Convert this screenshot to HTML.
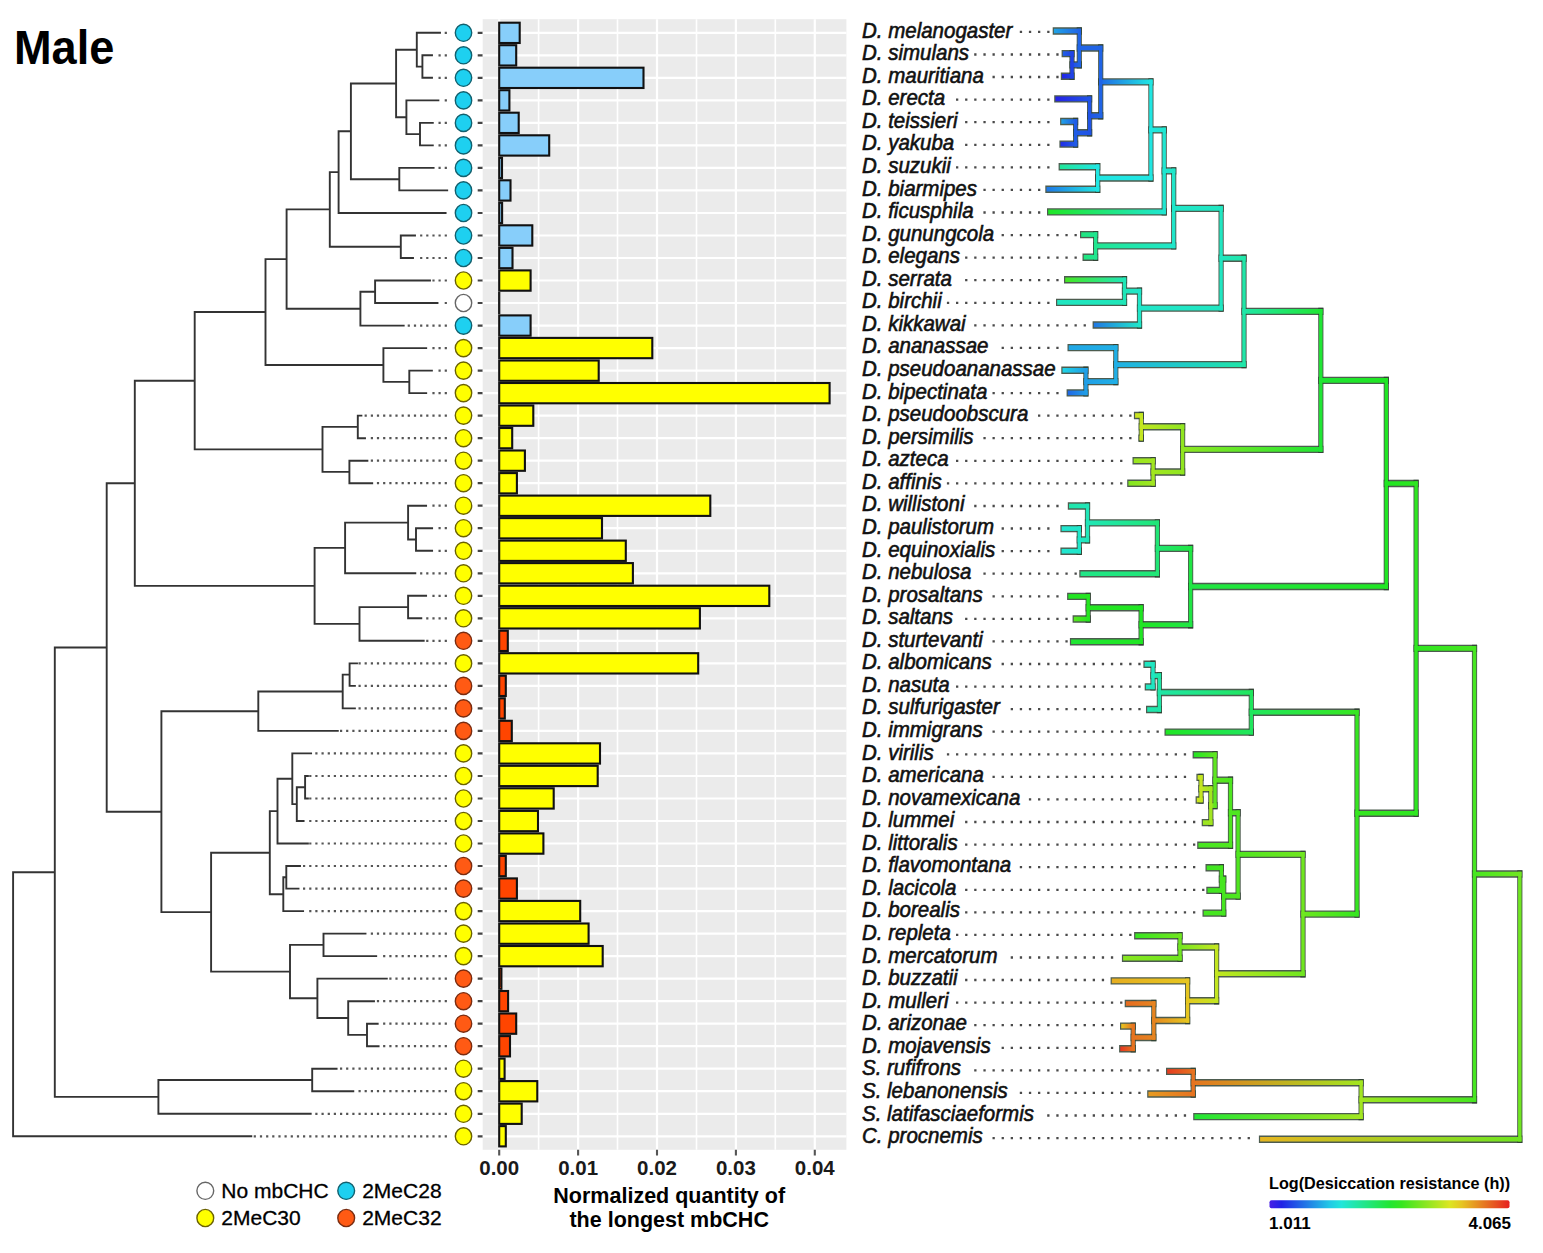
<!DOCTYPE html>
<html><head><meta charset="utf-8"><style>html,body{margin:0;padding:0;background:#fff;}body{width:1543px;height:1253px;position:relative;overflow:hidden;}</style></head><body>
<svg width="1543" height="1253" viewBox="0 0 1543 1253" style="position:absolute;left:0;top:0">
<rect x="0" y="0" width="1543" height="1253" fill="#ffffff"/>
<text transform="translate(14 63.5) scale(0.94 1)" font-family="Liberation Sans" font-weight="bold" font-size="48" fill="#000">Male</text>
<path d="M13.1 872.2V1136.3M13.1 872.2H54.8M13.1 1136.3H251.3M54.8 647.5V1096.9M54.8 647.5H106.7M54.8 1096.9H158.4M158.4 1080V1113.8M158.4 1080H312.2M158.4 1113.8H310.7M312.2 1068.7V1091.2M312.2 1068.7H336.6M312.2 1091.2H353.3M106.7 483.3V811.7M106.7 483.3H134.8M106.7 811.7H161.4M134.8 380.7V585.9M134.8 380.7H194.7M134.8 585.9H314.6M194.7 312V449.4M194.7 312H265.5M194.7 449.4H322.5M265.5 259.1V365M265.5 259.1H286.6M265.5 365H383.4M286.6 209.4V308.7M286.6 209.4H329.8M286.6 308.7H360.4M329.8 172.1V246.7M329.8 172.1H338.6M329.8 246.7H400.8M338.6 131.3V213M338.6 131.3H350.9M338.6 213H445.6M350.9 83.5V179.2M350.9 83.5H396.1M350.9 179.2H399.3M396.1 49.7V117.2M396.1 49.7H416.8M396.1 117.2H406.4M416.8 32.8V66.6M416.8 32.8H440M416.8 66.6H422.4M422.4 55.3V77.8M422.4 55.3H432M422.4 77.8H432M406.4 100.4V134.1M406.4 100.4H438.4M406.4 134.1H420M420 122.9V145.4M420 122.9H432.8M420 145.4H432.8M399.3 167.9V190.4M399.3 167.9H433.6M399.3 190.4H447.2M400.8 235.5V258M400.8 235.5H415M400.8 258H413M360.4 291.8V325.6M360.4 291.8H375.1M360.4 325.6H403.7M375.1 280.5V303M375.1 280.5H430M375.1 303H437.5M383.4 348.1V381.9M383.4 348.1H426.2M383.4 381.9H409.3M409.3 370.6V393.1M409.3 370.6H431.9M409.3 393.1H426.2M322.5 426.9V471.9M322.5 426.9H357.8M322.5 471.9H349.4M357.8 415.6V438.2M357.8 415.6H361.4M357.8 438.2H365M349.4 460.7V483.2M349.4 460.7H367.4M349.4 483.2H372.2M314.6 547.9V623.9M314.6 547.9H345.1M314.6 623.9H359.5M345.1 522.6V573.3M345.1 522.6H408.1M345.1 573.3H415.3M408.1 505.7V539.5M408.1 505.7H426.1M408.1 539.5H416M416 528.2V550.8M416 528.2H432.1M416 550.8H432.1M359.5 607.1V640.8M359.5 607.1H408.1M359.5 640.8H423.7M408.1 595.8V618.3M408.1 595.8H426.1M408.1 618.3H421.3M161.4 711.2V912.1M161.4 711.2H258.3M161.4 912.1H211.1M258.3 691.5V730.9M258.3 691.5H342.7M258.3 730.9H337.8M342.7 674.6V708.4M342.7 674.6H349.6M342.7 708.4H354.9M349.6 663.4V685.9M349.6 663.4H357M349.6 685.9H354.9M211.1 852.7V971.6M211.1 852.7H269.8M211.1 971.6H290M269.8 811.1V894.2M269.8 811.1H277.5M269.8 894.2H283.3M277.5 778.8V843.5M277.5 778.8H292.3M277.5 843.5H307.9M292.3 753.4V804.1M292.3 753.4H311.1M292.3 804.1H296.8M296.8 787.2V821M296.8 787.2H305.1M296.8 821H303.6M305.1 776V798.5M305.1 776H307.9M305.1 798.5H307.9M283.3 877.3V911.1M283.3 877.3H286.3M283.3 911.1H303.1M286.3 866V888.6M286.3 866H300M286.3 888.6H298.5M290 944.9V998.3M290 944.9H323.5M290 998.3H317.4M323.5 933.6V956.1M323.5 933.6H365.5M323.5 956.1H376.2M317.4 978.6V1018M317.4 978.6H386.8M317.4 1018H348.2M348.2 1001.2V1034.9M348.2 1001.2H374M348.2 1034.9H367M367 1023.7V1046.2M367 1023.7H377.7M367 1046.2H378.6" fill="none" stroke="#333" stroke-width="1.9" stroke-linecap="square"/>
<path d="M444.7 32.8h2.2M444.7 55.3h2.2M438.5 55.3h2.2M444.7 77.8h2.2M438.5 77.8h2.2M444.7 100.4h2.2M444.7 122.9h2.2M438.5 122.9h2.2M444.7 145.4h2.2M438.5 145.4h2.2M444.7 167.9h2.2M438.5 167.9h2.2M444.7 235.5h2.2M438.5 235.5h2.2M432.4 235.5h2.2M426.2 235.5h2.2M420.1 235.5h2.2M444.7 258h2.2M438.5 258h2.2M432.4 258h2.2M426.2 258h2.2M420.1 258h2.2M444.7 280.5h2.2M438.5 280.5h2.2M432.4 280.5h2.2M444.7 303h2.2M444.7 325.6h2.2M438.5 325.6h2.2M432.4 325.6h2.2M426.2 325.6h2.2M420.1 325.6h2.2M413.9 325.6h2.2M407.7 325.6h2.2M444.7 348.1h2.2M438.5 348.1h2.2M432.4 348.1h2.2M444.7 370.6h2.2M438.5 370.6h2.2M444.7 393.1h2.2M438.5 393.1h2.2M432.4 393.1h2.2M444.7 415.6h2.2M438.5 415.6h2.2M432.4 415.6h2.2M426.2 415.6h2.2M420.1 415.6h2.2M413.9 415.6h2.2M407.7 415.6h2.2M401.6 415.6h2.2M395.4 415.6h2.2M389.3 415.6h2.2M383.1 415.6h2.2M376.9 415.6h2.2M370.8 415.6h2.2M364.6 415.6h2.2M444.7 438.2h2.2M438.5 438.2h2.2M432.4 438.2h2.2M426.2 438.2h2.2M420.1 438.2h2.2M413.9 438.2h2.2M407.7 438.2h2.2M401.6 438.2h2.2M395.4 438.2h2.2M389.3 438.2h2.2M383.1 438.2h2.2M376.9 438.2h2.2M370.8 438.2h2.2M444.7 460.7h2.2M438.5 460.7h2.2M432.4 460.7h2.2M426.2 460.7h2.2M420.1 460.7h2.2M413.9 460.7h2.2M407.7 460.7h2.2M401.6 460.7h2.2M395.4 460.7h2.2M389.3 460.7h2.2M383.1 460.7h2.2M376.9 460.7h2.2M370.8 460.7h2.2M444.7 483.2h2.2M438.5 483.2h2.2M432.4 483.2h2.2M426.2 483.2h2.2M420.1 483.2h2.2M413.9 483.2h2.2M407.7 483.2h2.2M401.6 483.2h2.2M395.4 483.2h2.2M389.3 483.2h2.2M383.1 483.2h2.2M376.9 483.2h2.2M444.7 505.7h2.2M438.5 505.7h2.2M432.4 505.7h2.2M444.7 528.2h2.2M438.5 528.2h2.2M444.7 550.8h2.2M438.5 550.8h2.2M444.7 573.3h2.2M438.5 573.3h2.2M432.4 573.3h2.2M426.2 573.3h2.2M420.1 573.3h2.2M444.7 595.8h2.2M438.5 595.8h2.2M432.4 595.8h2.2M444.7 618.3h2.2M438.5 618.3h2.2M432.4 618.3h2.2M426.2 618.3h2.2M444.7 640.8h2.2M438.5 640.8h2.2M432.4 640.8h2.2M426.2 640.8h2.2M444.7 663.4h2.2M438.5 663.4h2.2M432.4 663.4h2.2M426.2 663.4h2.2M420.1 663.4h2.2M413.9 663.4h2.2M407.7 663.4h2.2M401.6 663.4h2.2M395.4 663.4h2.2M389.3 663.4h2.2M383.1 663.4h2.2M376.9 663.4h2.2M370.8 663.4h2.2M364.6 663.4h2.2M358.5 663.4h2.2M444.7 685.9h2.2M438.5 685.9h2.2M432.4 685.9h2.2M426.2 685.9h2.2M420.1 685.9h2.2M413.9 685.9h2.2M407.7 685.9h2.2M401.6 685.9h2.2M395.4 685.9h2.2M389.3 685.9h2.2M383.1 685.9h2.2M376.9 685.9h2.2M370.8 685.9h2.2M364.6 685.9h2.2M358.5 685.9h2.2M444.7 708.4h2.2M438.5 708.4h2.2M432.4 708.4h2.2M426.2 708.4h2.2M420.1 708.4h2.2M413.9 708.4h2.2M407.7 708.4h2.2M401.6 708.4h2.2M395.4 708.4h2.2M389.3 708.4h2.2M383.1 708.4h2.2M376.9 708.4h2.2M370.8 708.4h2.2M364.6 708.4h2.2M358.5 708.4h2.2M444.7 730.9h2.2M438.5 730.9h2.2M432.4 730.9h2.2M426.2 730.9h2.2M420.1 730.9h2.2M413.9 730.9h2.2M407.7 730.9h2.2M401.6 730.9h2.2M395.4 730.9h2.2M389.3 730.9h2.2M383.1 730.9h2.2M376.9 730.9h2.2M370.8 730.9h2.2M364.6 730.9h2.2M358.5 730.9h2.2M352.3 730.9h2.2M346.1 730.9h2.2M340 730.9h2.2M444.7 753.4h2.2M438.5 753.4h2.2M432.4 753.4h2.2M426.2 753.4h2.2M420.1 753.4h2.2M413.9 753.4h2.2M407.7 753.4h2.2M401.6 753.4h2.2M395.4 753.4h2.2M389.3 753.4h2.2M383.1 753.4h2.2M376.9 753.4h2.2M370.8 753.4h2.2M364.6 753.4h2.2M358.5 753.4h2.2M352.3 753.4h2.2M346.1 753.4h2.2M340 753.4h2.2M333.8 753.4h2.2M327.7 753.4h2.2M321.5 753.4h2.2M315.3 753.4h2.2M444.7 776h2.2M438.5 776h2.2M432.4 776h2.2M426.2 776h2.2M420.1 776h2.2M413.9 776h2.2M407.7 776h2.2M401.6 776h2.2M395.4 776h2.2M389.3 776h2.2M383.1 776h2.2M376.9 776h2.2M370.8 776h2.2M364.6 776h2.2M358.5 776h2.2M352.3 776h2.2M346.1 776h2.2M340 776h2.2M333.8 776h2.2M327.7 776h2.2M321.5 776h2.2M315.3 776h2.2M309.2 776h2.2M444.7 798.5h2.2M438.5 798.5h2.2M432.4 798.5h2.2M426.2 798.5h2.2M420.1 798.5h2.2M413.9 798.5h2.2M407.7 798.5h2.2M401.6 798.5h2.2M395.4 798.5h2.2M389.3 798.5h2.2M383.1 798.5h2.2M376.9 798.5h2.2M370.8 798.5h2.2M364.6 798.5h2.2M358.5 798.5h2.2M352.3 798.5h2.2M346.1 798.5h2.2M340 798.5h2.2M333.8 798.5h2.2M327.7 798.5h2.2M321.5 798.5h2.2M315.3 798.5h2.2M309.2 798.5h2.2M444.7 821h2.2M438.5 821h2.2M432.4 821h2.2M426.2 821h2.2M420.1 821h2.2M413.9 821h2.2M407.7 821h2.2M401.6 821h2.2M395.4 821h2.2M389.3 821h2.2M383.1 821h2.2M376.9 821h2.2M370.8 821h2.2M364.6 821h2.2M358.5 821h2.2M352.3 821h2.2M346.1 821h2.2M340 821h2.2M333.8 821h2.2M327.7 821h2.2M321.5 821h2.2M315.3 821h2.2M309.2 821h2.2M444.7 843.5h2.2M438.5 843.5h2.2M432.4 843.5h2.2M426.2 843.5h2.2M420.1 843.5h2.2M413.9 843.5h2.2M407.7 843.5h2.2M401.6 843.5h2.2M395.4 843.5h2.2M389.3 843.5h2.2M383.1 843.5h2.2M376.9 843.5h2.2M370.8 843.5h2.2M364.6 843.5h2.2M358.5 843.5h2.2M352.3 843.5h2.2M346.1 843.5h2.2M340 843.5h2.2M333.8 843.5h2.2M327.7 843.5h2.2M321.5 843.5h2.2M315.3 843.5h2.2M309.2 843.5h2.2M444.7 866h2.2M438.5 866h2.2M432.4 866h2.2M426.2 866h2.2M420.1 866h2.2M413.9 866h2.2M407.7 866h2.2M401.6 866h2.2M395.4 866h2.2M389.3 866h2.2M383.1 866h2.2M376.9 866h2.2M370.8 866h2.2M364.6 866h2.2M358.5 866h2.2M352.3 866h2.2M346.1 866h2.2M340 866h2.2M333.8 866h2.2M327.7 866h2.2M321.5 866h2.2M315.3 866h2.2M309.2 866h2.2M303 866h2.2M444.7 888.6h2.2M438.5 888.6h2.2M432.4 888.6h2.2M426.2 888.6h2.2M420.1 888.6h2.2M413.9 888.6h2.2M407.7 888.6h2.2M401.6 888.6h2.2M395.4 888.6h2.2M389.3 888.6h2.2M383.1 888.6h2.2M376.9 888.6h2.2M370.8 888.6h2.2M364.6 888.6h2.2M358.5 888.6h2.2M352.3 888.6h2.2M346.1 888.6h2.2M340 888.6h2.2M333.8 888.6h2.2M327.7 888.6h2.2M321.5 888.6h2.2M315.3 888.6h2.2M309.2 888.6h2.2M303 888.6h2.2M444.7 911.1h2.2M438.5 911.1h2.2M432.4 911.1h2.2M426.2 911.1h2.2M420.1 911.1h2.2M413.9 911.1h2.2M407.7 911.1h2.2M401.6 911.1h2.2M395.4 911.1h2.2M389.3 911.1h2.2M383.1 911.1h2.2M376.9 911.1h2.2M370.8 911.1h2.2M364.6 911.1h2.2M358.5 911.1h2.2M352.3 911.1h2.2M346.1 911.1h2.2M340 911.1h2.2M333.8 911.1h2.2M327.7 911.1h2.2M321.5 911.1h2.2M315.3 911.1h2.2M309.2 911.1h2.2M444.7 933.6h2.2M438.5 933.6h2.2M432.4 933.6h2.2M426.2 933.6h2.2M420.1 933.6h2.2M413.9 933.6h2.2M407.7 933.6h2.2M401.6 933.6h2.2M395.4 933.6h2.2M389.3 933.6h2.2M383.1 933.6h2.2M376.9 933.6h2.2M370.8 933.6h2.2M444.7 956.1h2.2M438.5 956.1h2.2M432.4 956.1h2.2M426.2 956.1h2.2M420.1 956.1h2.2M413.9 956.1h2.2M407.7 956.1h2.2M401.6 956.1h2.2M395.4 956.1h2.2M389.3 956.1h2.2M383.1 956.1h2.2M444.7 978.6h2.2M438.5 978.6h2.2M432.4 978.6h2.2M426.2 978.6h2.2M420.1 978.6h2.2M413.9 978.6h2.2M407.7 978.6h2.2M401.6 978.6h2.2M395.4 978.6h2.2M389.3 978.6h2.2M444.7 1001.2h2.2M438.5 1001.2h2.2M432.4 1001.2h2.2M426.2 1001.2h2.2M420.1 1001.2h2.2M413.9 1001.2h2.2M407.7 1001.2h2.2M401.6 1001.2h2.2M395.4 1001.2h2.2M389.3 1001.2h2.2M383.1 1001.2h2.2M376.9 1001.2h2.2M444.7 1023.7h2.2M438.5 1023.7h2.2M432.4 1023.7h2.2M426.2 1023.7h2.2M420.1 1023.7h2.2M413.9 1023.7h2.2M407.7 1023.7h2.2M401.6 1023.7h2.2M395.4 1023.7h2.2M389.3 1023.7h2.2M383.1 1023.7h2.2M444.7 1046.2h2.2M438.5 1046.2h2.2M432.4 1046.2h2.2M426.2 1046.2h2.2M420.1 1046.2h2.2M413.9 1046.2h2.2M407.7 1046.2h2.2M401.6 1046.2h2.2M395.4 1046.2h2.2M389.3 1046.2h2.2M383.1 1046.2h2.2M444.7 1068.7h2.2M438.5 1068.7h2.2M432.4 1068.7h2.2M426.2 1068.7h2.2M420.1 1068.7h2.2M413.9 1068.7h2.2M407.7 1068.7h2.2M401.6 1068.7h2.2M395.4 1068.7h2.2M389.3 1068.7h2.2M383.1 1068.7h2.2M376.9 1068.7h2.2M370.8 1068.7h2.2M364.6 1068.7h2.2M358.5 1068.7h2.2M352.3 1068.7h2.2M346.1 1068.7h2.2M340 1068.7h2.2M444.7 1091.2h2.2M438.5 1091.2h2.2M432.4 1091.2h2.2M426.2 1091.2h2.2M420.1 1091.2h2.2M413.9 1091.2h2.2M407.7 1091.2h2.2M401.6 1091.2h2.2M395.4 1091.2h2.2M389.3 1091.2h2.2M383.1 1091.2h2.2M376.9 1091.2h2.2M370.8 1091.2h2.2M364.6 1091.2h2.2M358.5 1091.2h2.2M444.7 1113.8h2.2M438.5 1113.8h2.2M432.4 1113.8h2.2M426.2 1113.8h2.2M420.1 1113.8h2.2M413.9 1113.8h2.2M407.7 1113.8h2.2M401.6 1113.8h2.2M395.4 1113.8h2.2M389.3 1113.8h2.2M383.1 1113.8h2.2M376.9 1113.8h2.2M370.8 1113.8h2.2M364.6 1113.8h2.2M358.5 1113.8h2.2M352.3 1113.8h2.2M346.1 1113.8h2.2M340 1113.8h2.2M333.8 1113.8h2.2M327.7 1113.8h2.2M321.5 1113.8h2.2M315.3 1113.8h2.2M444.7 1136.3h2.2M438.5 1136.3h2.2M432.4 1136.3h2.2M426.2 1136.3h2.2M420.1 1136.3h2.2M413.9 1136.3h2.2M407.7 1136.3h2.2M401.6 1136.3h2.2M395.4 1136.3h2.2M389.3 1136.3h2.2M383.1 1136.3h2.2M376.9 1136.3h2.2M370.8 1136.3h2.2M364.6 1136.3h2.2M358.5 1136.3h2.2M352.3 1136.3h2.2M346.1 1136.3h2.2M340 1136.3h2.2M333.8 1136.3h2.2M327.7 1136.3h2.2M321.5 1136.3h2.2M315.3 1136.3h2.2M309.2 1136.3h2.2M303 1136.3h2.2M296.9 1136.3h2.2M290.7 1136.3h2.2M284.5 1136.3h2.2M278.4 1136.3h2.2M272.2 1136.3h2.2M266.1 1136.3h2.2M259.9 1136.3h2.2M253.7 1136.3h2.2" fill="none" stroke="#555" stroke-width="2.2"/>
<ellipse cx="463.5" cy="32.8" rx="8.2" ry="8.6" fill="#1ed0f0" stroke="#12606e" stroke-width="1.4"/>
<ellipse cx="463.5" cy="55.3" rx="8.2" ry="8.6" fill="#1ed0f0" stroke="#12606e" stroke-width="1.4"/>
<ellipse cx="463.5" cy="77.8" rx="8.2" ry="8.6" fill="#1ed0f0" stroke="#12606e" stroke-width="1.4"/>
<ellipse cx="463.5" cy="100.4" rx="8.2" ry="8.6" fill="#1ed0f0" stroke="#12606e" stroke-width="1.4"/>
<ellipse cx="463.5" cy="122.9" rx="8.2" ry="8.6" fill="#1ed0f0" stroke="#12606e" stroke-width="1.4"/>
<ellipse cx="463.5" cy="145.4" rx="8.2" ry="8.6" fill="#1ed0f0" stroke="#12606e" stroke-width="1.4"/>
<ellipse cx="463.5" cy="167.9" rx="8.2" ry="8.6" fill="#1ed0f0" stroke="#12606e" stroke-width="1.4"/>
<ellipse cx="463.5" cy="190.4" rx="8.2" ry="8.6" fill="#1ed0f0" stroke="#12606e" stroke-width="1.4"/>
<ellipse cx="463.5" cy="213" rx="8.2" ry="8.6" fill="#1ed0f0" stroke="#12606e" stroke-width="1.4"/>
<ellipse cx="463.5" cy="235.5" rx="8.2" ry="8.6" fill="#1ed0f0" stroke="#12606e" stroke-width="1.4"/>
<ellipse cx="463.5" cy="258" rx="8.2" ry="8.6" fill="#1ed0f0" stroke="#12606e" stroke-width="1.4"/>
<ellipse cx="463.5" cy="280.5" rx="8.2" ry="8.6" fill="#ffff00" stroke="#6b6200" stroke-width="1.4"/>
<ellipse cx="463.5" cy="303" rx="8.2" ry="8.6" fill="#ffffff" stroke="#666666" stroke-width="1.4"/>
<ellipse cx="463.5" cy="325.6" rx="8.2" ry="8.6" fill="#1ed0f0" stroke="#12606e" stroke-width="1.4"/>
<ellipse cx="463.5" cy="348.1" rx="8.2" ry="8.6" fill="#ffff00" stroke="#6b6200" stroke-width="1.4"/>
<ellipse cx="463.5" cy="370.6" rx="8.2" ry="8.6" fill="#ffff00" stroke="#6b6200" stroke-width="1.4"/>
<ellipse cx="463.5" cy="393.1" rx="8.2" ry="8.6" fill="#ffff00" stroke="#6b6200" stroke-width="1.4"/>
<ellipse cx="463.5" cy="415.6" rx="8.2" ry="8.6" fill="#ffff00" stroke="#6b6200" stroke-width="1.4"/>
<ellipse cx="463.5" cy="438.2" rx="8.2" ry="8.6" fill="#ffff00" stroke="#6b6200" stroke-width="1.4"/>
<ellipse cx="463.5" cy="460.7" rx="8.2" ry="8.6" fill="#ffff00" stroke="#6b6200" stroke-width="1.4"/>
<ellipse cx="463.5" cy="483.2" rx="8.2" ry="8.6" fill="#ffff00" stroke="#6b6200" stroke-width="1.4"/>
<ellipse cx="463.5" cy="505.7" rx="8.2" ry="8.6" fill="#ffff00" stroke="#6b6200" stroke-width="1.4"/>
<ellipse cx="463.5" cy="528.2" rx="8.2" ry="8.6" fill="#ffff00" stroke="#6b6200" stroke-width="1.4"/>
<ellipse cx="463.5" cy="550.8" rx="8.2" ry="8.6" fill="#ffff00" stroke="#6b6200" stroke-width="1.4"/>
<ellipse cx="463.5" cy="573.3" rx="8.2" ry="8.6" fill="#ffff00" stroke="#6b6200" stroke-width="1.4"/>
<ellipse cx="463.5" cy="595.8" rx="8.2" ry="8.6" fill="#ffff00" stroke="#6b6200" stroke-width="1.4"/>
<ellipse cx="463.5" cy="618.3" rx="8.2" ry="8.6" fill="#ffff00" stroke="#6b6200" stroke-width="1.4"/>
<ellipse cx="463.5" cy="640.8" rx="8.2" ry="8.6" fill="#ff5a14" stroke="#7a2c10" stroke-width="1.4"/>
<ellipse cx="463.5" cy="663.4" rx="8.2" ry="8.6" fill="#ffff00" stroke="#6b6200" stroke-width="1.4"/>
<ellipse cx="463.5" cy="685.9" rx="8.2" ry="8.6" fill="#ff5a14" stroke="#7a2c10" stroke-width="1.4"/>
<ellipse cx="463.5" cy="708.4" rx="8.2" ry="8.6" fill="#ff5a14" stroke="#7a2c10" stroke-width="1.4"/>
<ellipse cx="463.5" cy="730.9" rx="8.2" ry="8.6" fill="#ff5a14" stroke="#7a2c10" stroke-width="1.4"/>
<ellipse cx="463.5" cy="753.4" rx="8.2" ry="8.6" fill="#ffff00" stroke="#6b6200" stroke-width="1.4"/>
<ellipse cx="463.5" cy="776" rx="8.2" ry="8.6" fill="#ffff00" stroke="#6b6200" stroke-width="1.4"/>
<ellipse cx="463.5" cy="798.5" rx="8.2" ry="8.6" fill="#ffff00" stroke="#6b6200" stroke-width="1.4"/>
<ellipse cx="463.5" cy="821" rx="8.2" ry="8.6" fill="#ffff00" stroke="#6b6200" stroke-width="1.4"/>
<ellipse cx="463.5" cy="843.5" rx="8.2" ry="8.6" fill="#ffff00" stroke="#6b6200" stroke-width="1.4"/>
<ellipse cx="463.5" cy="866" rx="8.2" ry="8.6" fill="#ff5a14" stroke="#7a2c10" stroke-width="1.4"/>
<ellipse cx="463.5" cy="888.6" rx="8.2" ry="8.6" fill="#ff5a14" stroke="#7a2c10" stroke-width="1.4"/>
<ellipse cx="463.5" cy="911.1" rx="8.2" ry="8.6" fill="#ffff00" stroke="#6b6200" stroke-width="1.4"/>
<ellipse cx="463.5" cy="933.6" rx="8.2" ry="8.6" fill="#ffff00" stroke="#6b6200" stroke-width="1.4"/>
<ellipse cx="463.5" cy="956.1" rx="8.2" ry="8.6" fill="#ffff00" stroke="#6b6200" stroke-width="1.4"/>
<ellipse cx="463.5" cy="978.6" rx="8.2" ry="8.6" fill="#ff5a14" stroke="#7a2c10" stroke-width="1.4"/>
<ellipse cx="463.5" cy="1001.2" rx="8.2" ry="8.6" fill="#ff5a14" stroke="#7a2c10" stroke-width="1.4"/>
<ellipse cx="463.5" cy="1023.7" rx="8.2" ry="8.6" fill="#ff5a14" stroke="#7a2c10" stroke-width="1.4"/>
<ellipse cx="463.5" cy="1046.2" rx="8.2" ry="8.6" fill="#ff5a14" stroke="#7a2c10" stroke-width="1.4"/>
<ellipse cx="463.5" cy="1068.7" rx="8.2" ry="8.6" fill="#ffff00" stroke="#6b6200" stroke-width="1.4"/>
<ellipse cx="463.5" cy="1091.2" rx="8.2" ry="8.6" fill="#ffff00" stroke="#6b6200" stroke-width="1.4"/>
<ellipse cx="463.5" cy="1113.8" rx="8.2" ry="8.6" fill="#ffff00" stroke="#6b6200" stroke-width="1.4"/>
<ellipse cx="463.5" cy="1136.3" rx="8.2" ry="8.6" fill="#ffff00" stroke="#6b6200" stroke-width="1.4"/>
<path d="M477.7 32.8H483M477.7 55.3H483M477.7 77.8H483M477.7 100.4H483M477.7 122.9H483M477.7 145.4H483M477.7 167.9H483M477.7 190.4H483M477.7 213H483M477.7 235.5H483M477.7 258H483M477.7 280.5H483M477.7 303H483M477.7 325.6H483M477.7 348.1H483M477.7 370.6H483M477.7 393.1H483M477.7 415.6H483M477.7 438.2H483M477.7 460.7H483M477.7 483.2H483M477.7 505.7H483M477.7 528.2H483M477.7 550.8H483M477.7 573.3H483M477.7 595.8H483M477.7 618.3H483M477.7 640.8H483M477.7 663.4H483M477.7 685.9H483M477.7 708.4H483M477.7 730.9H483M477.7 753.4H483M477.7 776H483M477.7 798.5H483M477.7 821H483M477.7 843.5H483M477.7 866H483M477.7 888.6H483M477.7 911.1H483M477.7 933.6H483M477.7 956.1H483M477.7 978.6H483M477.7 1001.2H483M477.7 1023.7H483M477.7 1046.2H483M477.7 1068.7H483M477.7 1091.2H483M477.7 1113.8H483M477.7 1136.3H483" stroke="#444" stroke-width="2.2"/>
<rect x="482.7" y="19.2" width="363.7" height="1130.6" fill="#ebebeb"/>
<path d="M538.6 19.2V1149.8M617.5 19.2V1149.8M696.5 19.2V1149.8M775.3 19.2V1149.8" stroke="#fff" stroke-width="1.6"/>
<path d="M499.2 19.2V1149.8M578.1 19.2V1149.8M657 19.2V1149.8M735.9 19.2V1149.8M814.8 19.2V1149.8M482.7 32.8H846.4M482.7 55.3H846.4M482.7 77.8H846.4M482.7 100.4H846.4M482.7 122.9H846.4M482.7 145.4H846.4M482.7 167.9H846.4M482.7 190.4H846.4M482.7 213H846.4M482.7 235.5H846.4M482.7 258H846.4M482.7 280.5H846.4M482.7 303H846.4M482.7 325.6H846.4M482.7 348.1H846.4M482.7 370.6H846.4M482.7 393.1H846.4M482.7 415.6H846.4M482.7 438.2H846.4M482.7 460.7H846.4M482.7 483.2H846.4M482.7 505.7H846.4M482.7 528.2H846.4M482.7 550.8H846.4M482.7 573.3H846.4M482.7 595.8H846.4M482.7 618.3H846.4M482.7 640.8H846.4M482.7 663.4H846.4M482.7 685.9H846.4M482.7 708.4H846.4M482.7 730.9H846.4M482.7 753.4H846.4M482.7 776H846.4M482.7 798.5H846.4M482.7 821H846.4M482.7 843.5H846.4M482.7 866H846.4M482.7 888.6H846.4M482.7 911.1H846.4M482.7 933.6H846.4M482.7 956.1H846.4M482.7 978.6H846.4M482.7 1001.2H846.4M482.7 1023.7H846.4M482.7 1046.2H846.4M482.7 1068.7H846.4M482.7 1091.2H846.4M482.7 1113.8H846.4M482.7 1136.3H846.4" stroke="#fff" stroke-width="2.2"/>
<rect x="499.2" y="22.7" width="20.5" height="20.3" fill="#87cefa" stroke="#111" stroke-width="2.1"/>
<rect x="499.2" y="45.2" width="17" height="20.3" fill="#87cefa" stroke="#111" stroke-width="2.1"/>
<rect x="499.2" y="67.7" width="144.3" height="20.3" fill="#87cefa" stroke="#111" stroke-width="2.1"/>
<rect x="499.2" y="90.2" width="10.2" height="20.3" fill="#87cefa" stroke="#111" stroke-width="2.1"/>
<rect x="499.2" y="112.7" width="19.5" height="20.3" fill="#87cefa" stroke="#111" stroke-width="2.1"/>
<rect x="499.2" y="135.3" width="50" height="20.3" fill="#87cefa" stroke="#111" stroke-width="2.1"/>
<rect x="499.2" y="157.8" width="2.8" height="20.3" fill="#87cefa" stroke="#111" stroke-width="2.1"/>
<rect x="499.2" y="180.3" width="11.3" height="20.3" fill="#87cefa" stroke="#111" stroke-width="2.1"/>
<rect x="499.2" y="202.8" width="2.9" height="20.3" fill="#87cefa" stroke="#111" stroke-width="2.1"/>
<rect x="499.2" y="225.3" width="33.1" height="20.3" fill="#87cefa" stroke="#111" stroke-width="2.1"/>
<rect x="499.2" y="247.9" width="13.3" height="20.3" fill="#87cefa" stroke="#111" stroke-width="2.1"/>
<rect x="499.2" y="270.4" width="31.4" height="20.3" fill="#ffff00" stroke="#111" stroke-width="2.1"/>
<path d="M499.2 291.9V314.2" stroke="#1a1a1a" stroke-width="2.3"/>
<rect x="499.2" y="315.4" width="31.4" height="20.3" fill="#87cefa" stroke="#111" stroke-width="2.1"/>
<rect x="499.2" y="337.9" width="153.1" height="20.3" fill="#ffff00" stroke="#111" stroke-width="2.1"/>
<rect x="499.2" y="360.5" width="99.5" height="20.3" fill="#ffff00" stroke="#111" stroke-width="2.1"/>
<rect x="499.2" y="383" width="330.4" height="20.3" fill="#ffff00" stroke="#111" stroke-width="2.1"/>
<rect x="499.2" y="405.5" width="34.1" height="20.3" fill="#ffff00" stroke="#111" stroke-width="2.1"/>
<rect x="499.2" y="428" width="13" height="20.3" fill="#ffff00" stroke="#111" stroke-width="2.1"/>
<rect x="499.2" y="450.5" width="25.7" height="20.3" fill="#ffff00" stroke="#111" stroke-width="2.1"/>
<rect x="499.2" y="473.1" width="17.7" height="20.3" fill="#ffff00" stroke="#111" stroke-width="2.1"/>
<rect x="499.2" y="495.6" width="211.1" height="20.3" fill="#ffff00" stroke="#111" stroke-width="2.1"/>
<rect x="499.2" y="518.1" width="102.8" height="20.3" fill="#ffff00" stroke="#111" stroke-width="2.1"/>
<rect x="499.2" y="540.6" width="126.6" height="20.3" fill="#ffff00" stroke="#111" stroke-width="2.1"/>
<rect x="499.2" y="563.1" width="133.7" height="20.3" fill="#ffff00" stroke="#111" stroke-width="2.1"/>
<rect x="499.2" y="585.7" width="270.1" height="20.3" fill="#ffff00" stroke="#111" stroke-width="2.1"/>
<rect x="499.2" y="608.2" width="200.7" height="20.3" fill="#ffff00" stroke="#111" stroke-width="2.1"/>
<rect x="499.2" y="630.7" width="8.6" height="20.3" fill="#ff4500" stroke="#111" stroke-width="2.1"/>
<rect x="499.2" y="653.2" width="199" height="20.3" fill="#ffff00" stroke="#111" stroke-width="2.1"/>
<rect x="499.2" y="675.7" width="6.6" height="20.3" fill="#ff4500" stroke="#111" stroke-width="2.1"/>
<rect x="499.2" y="698.3" width="5.6" height="20.3" fill="#ff4500" stroke="#111" stroke-width="2.1"/>
<rect x="499.2" y="720.8" width="12.6" height="20.3" fill="#ff4500" stroke="#111" stroke-width="2.1"/>
<rect x="499.2" y="743.3" width="100.8" height="20.3" fill="#ffff00" stroke="#111" stroke-width="2.1"/>
<rect x="499.2" y="765.8" width="98.5" height="20.3" fill="#ffff00" stroke="#111" stroke-width="2.1"/>
<rect x="499.2" y="788.3" width="54.5" height="20.3" fill="#ffff00" stroke="#111" stroke-width="2.1"/>
<rect x="499.2" y="810.9" width="38.8" height="20.3" fill="#ffff00" stroke="#111" stroke-width="2.1"/>
<rect x="499.2" y="833.4" width="44.2" height="20.3" fill="#ffff00" stroke="#111" stroke-width="2.1"/>
<rect x="499.2" y="855.9" width="6.6" height="20.3" fill="#ff4500" stroke="#111" stroke-width="2.1"/>
<rect x="499.2" y="878.4" width="17.7" height="20.3" fill="#ff4500" stroke="#111" stroke-width="2.1"/>
<rect x="499.2" y="900.9" width="81" height="20.3" fill="#ffff00" stroke="#111" stroke-width="2.1"/>
<rect x="499.2" y="923.5" width="89.4" height="20.3" fill="#ffff00" stroke="#111" stroke-width="2.1"/>
<rect x="499.2" y="946" width="103.5" height="20.3" fill="#ffff00" stroke="#111" stroke-width="2.1"/>
<rect x="499.2" y="968.5" width="2.2" height="20.3" fill="#ff4500" stroke="#111" stroke-width="2.1"/>
<rect x="499.2" y="991" width="8.9" height="20.3" fill="#ff4500" stroke="#111" stroke-width="2.1"/>
<rect x="499.2" y="1013.5" width="17" height="20.3" fill="#ff4500" stroke="#111" stroke-width="2.1"/>
<rect x="499.2" y="1036.1" width="10.8" height="20.3" fill="#ff4500" stroke="#111" stroke-width="2.1"/>
<rect x="499.2" y="1058.6" width="5.4" height="20.3" fill="#ffff00" stroke="#111" stroke-width="2.1"/>
<rect x="499.2" y="1081.1" width="38.1" height="20.3" fill="#ffff00" stroke="#111" stroke-width="2.1"/>
<rect x="499.2" y="1103.6" width="22.5" height="20.3" fill="#ffff00" stroke="#111" stroke-width="2.1"/>
<rect x="499.2" y="1126.1" width="6.6" height="20.3" fill="#ffff00" stroke="#111" stroke-width="2.1"/>
<path d="M499.2 1149.8V1155.5M578.1 1149.8V1155.5M657 1149.8V1155.5M735.9 1149.8V1155.5M814.8 1149.8V1155.5" stroke="#555" stroke-width="2.1"/>
<text x="499.2" y="1174.5" text-anchor="middle" font-family="Liberation Sans" font-weight="bold" font-size="20.5" fill="#1a1a1a">0.00</text>
<text x="578.1" y="1174.5" text-anchor="middle" font-family="Liberation Sans" font-weight="bold" font-size="20.5" fill="#1a1a1a">0.01</text>
<text x="657" y="1174.5" text-anchor="middle" font-family="Liberation Sans" font-weight="bold" font-size="20.5" fill="#1a1a1a">0.02</text>
<text x="735.9" y="1174.5" text-anchor="middle" font-family="Liberation Sans" font-weight="bold" font-size="20.5" fill="#1a1a1a">0.03</text>
<text x="814.8" y="1174.5" text-anchor="middle" font-family="Liberation Sans" font-weight="bold" font-size="20.5" fill="#1a1a1a">0.04</text>
<text x="669.2" y="1202.8" text-anchor="middle" font-family="Liberation Sans" font-weight="bold" font-size="21.5" fill="#000">Normalized quantity of</text>
<text x="669.2" y="1227.4" text-anchor="middle" font-family="Liberation Sans" font-weight="bold" font-size="21.5" fill="#000">the longest mbCHC</text>
<ellipse cx="205.3" cy="1190.8" rx="8.4" ry="8.6" fill="#ffffff" stroke="#666666" stroke-width="1.4"/>
<text x="221.3" y="1197.7" font-family="Liberation Sans" font-size="21" fill="#000" stroke="#000" stroke-width="0.3">No mbCHC</text>
<ellipse cx="346.2" cy="1190.8" rx="8.4" ry="8.6" fill="#1ed0f0" stroke="#12606e" stroke-width="1.4"/>
<text x="362.2" y="1197.7" font-family="Liberation Sans" font-size="21" fill="#000" stroke="#000" stroke-width="0.3">2MeC28</text>
<ellipse cx="205.3" cy="1218" rx="8.4" ry="8.6" fill="#ffff00" stroke="#6b6200" stroke-width="1.4"/>
<text x="221.3" y="1224.9" font-family="Liberation Sans" font-size="21" fill="#000" stroke="#000" stroke-width="0.3">2MeC30</text>
<ellipse cx="346.2" cy="1218" rx="8.4" ry="8.6" fill="#ff5a14" stroke="#7a2c10" stroke-width="1.4"/>
<text x="362.2" y="1224.9" font-family="Liberation Sans" font-size="21" fill="#000" stroke="#000" stroke-width="0.3">2MeC32</text>
<text transform="translate(862 37.6) scale(0.953 1)" font-family="Liberation Sans" font-style="italic" font-size="21.5" fill="#111" stroke="#111" stroke-width="0.6">D. melanogaster</text>
<text transform="translate(862 60.2) scale(0.953 1)" font-family="Liberation Sans" font-style="italic" font-size="21.5" fill="#111" stroke="#111" stroke-width="0.6">D. simulans</text>
<text transform="translate(862 82.7) scale(0.953 1)" font-family="Liberation Sans" font-style="italic" font-size="21.5" fill="#111" stroke="#111" stroke-width="0.6">D. mauritiana</text>
<text transform="translate(862 105.3) scale(0.953 1)" font-family="Liberation Sans" font-style="italic" font-size="21.5" fill="#111" stroke="#111" stroke-width="0.6">D. erecta</text>
<text transform="translate(862 127.8) scale(0.953 1)" font-family="Liberation Sans" font-style="italic" font-size="21.5" fill="#111" stroke="#111" stroke-width="0.6">D. teissieri</text>
<text transform="translate(862 150.4) scale(0.953 1)" font-family="Liberation Sans" font-style="italic" font-size="21.5" fill="#111" stroke="#111" stroke-width="0.6">D. yakuba</text>
<text transform="translate(862 173) scale(0.953 1)" font-family="Liberation Sans" font-style="italic" font-size="21.5" fill="#111" stroke="#111" stroke-width="0.6">D. suzukii</text>
<text transform="translate(862 195.5) scale(0.953 1)" font-family="Liberation Sans" font-style="italic" font-size="21.5" fill="#111" stroke="#111" stroke-width="0.6">D. biarmipes</text>
<text transform="translate(862 218.1) scale(0.953 1)" font-family="Liberation Sans" font-style="italic" font-size="21.5" fill="#111" stroke="#111" stroke-width="0.6">D. ficusphila</text>
<text transform="translate(862 240.6) scale(0.953 1)" font-family="Liberation Sans" font-style="italic" font-size="21.5" fill="#111" stroke="#111" stroke-width="0.6">D. gunungcola</text>
<text transform="translate(862 263.2) scale(0.953 1)" font-family="Liberation Sans" font-style="italic" font-size="21.5" fill="#111" stroke="#111" stroke-width="0.6">D. elegans</text>
<text transform="translate(862 285.8) scale(0.953 1)" font-family="Liberation Sans" font-style="italic" font-size="21.5" fill="#111" stroke="#111" stroke-width="0.6">D. serrata</text>
<text transform="translate(862 308.3) scale(0.953 1)" font-family="Liberation Sans" font-style="italic" font-size="21.5" fill="#111" stroke="#111" stroke-width="0.6">D. birchii</text>
<text transform="translate(862 330.9) scale(0.953 1)" font-family="Liberation Sans" font-style="italic" font-size="21.5" fill="#111" stroke="#111" stroke-width="0.6">D. kikkawai</text>
<text transform="translate(862 353.4) scale(0.953 1)" font-family="Liberation Sans" font-style="italic" font-size="21.5" fill="#111" stroke="#111" stroke-width="0.6">D. ananassae</text>
<text transform="translate(862 376) scale(0.953 1)" font-family="Liberation Sans" font-style="italic" font-size="21.5" fill="#111" stroke="#111" stroke-width="0.6">D. pseudoananassae</text>
<text transform="translate(862 398.6) scale(0.953 1)" font-family="Liberation Sans" font-style="italic" font-size="21.5" fill="#111" stroke="#111" stroke-width="0.6">D. bipectinata</text>
<text transform="translate(862 421.1) scale(0.953 1)" font-family="Liberation Sans" font-style="italic" font-size="21.5" fill="#111" stroke="#111" stroke-width="0.6">D. pseudoobscura</text>
<text transform="translate(862 443.7) scale(0.953 1)" font-family="Liberation Sans" font-style="italic" font-size="21.5" fill="#111" stroke="#111" stroke-width="0.6">D. persimilis</text>
<text transform="translate(862 466.2) scale(0.953 1)" font-family="Liberation Sans" font-style="italic" font-size="21.5" fill="#111" stroke="#111" stroke-width="0.6">D. azteca</text>
<text transform="translate(862 488.8) scale(0.953 1)" font-family="Liberation Sans" font-style="italic" font-size="21.5" fill="#111" stroke="#111" stroke-width="0.6">D. affinis</text>
<text transform="translate(862 511.4) scale(0.953 1)" font-family="Liberation Sans" font-style="italic" font-size="21.5" fill="#111" stroke="#111" stroke-width="0.6">D. willistoni</text>
<text transform="translate(862 533.9) scale(0.953 1)" font-family="Liberation Sans" font-style="italic" font-size="21.5" fill="#111" stroke="#111" stroke-width="0.6">D. paulistorum</text>
<text transform="translate(862 556.5) scale(0.953 1)" font-family="Liberation Sans" font-style="italic" font-size="21.5" fill="#111" stroke="#111" stroke-width="0.6">D. equinoxialis</text>
<text transform="translate(862 579) scale(0.953 1)" font-family="Liberation Sans" font-style="italic" font-size="21.5" fill="#111" stroke="#111" stroke-width="0.6">D. nebulosa</text>
<text transform="translate(862 601.6) scale(0.953 1)" font-family="Liberation Sans" font-style="italic" font-size="21.5" fill="#111" stroke="#111" stroke-width="0.6">D. prosaltans</text>
<text transform="translate(862 624.2) scale(0.953 1)" font-family="Liberation Sans" font-style="italic" font-size="21.5" fill="#111" stroke="#111" stroke-width="0.6">D. saltans</text>
<text transform="translate(862 646.7) scale(0.953 1)" font-family="Liberation Sans" font-style="italic" font-size="21.5" fill="#111" stroke="#111" stroke-width="0.6">D. sturtevanti</text>
<text transform="translate(862 669.3) scale(0.953 1)" font-family="Liberation Sans" font-style="italic" font-size="21.5" fill="#111" stroke="#111" stroke-width="0.6">D. albomicans</text>
<text transform="translate(862 691.8) scale(0.953 1)" font-family="Liberation Sans" font-style="italic" font-size="21.5" fill="#111" stroke="#111" stroke-width="0.6">D. nasuta</text>
<text transform="translate(862 714.4) scale(0.953 1)" font-family="Liberation Sans" font-style="italic" font-size="21.5" fill="#111" stroke="#111" stroke-width="0.6">D. sulfurigaster</text>
<text transform="translate(862 737) scale(0.953 1)" font-family="Liberation Sans" font-style="italic" font-size="21.5" fill="#111" stroke="#111" stroke-width="0.6">D. immigrans</text>
<text transform="translate(862 759.5) scale(0.953 1)" font-family="Liberation Sans" font-style="italic" font-size="21.5" fill="#111" stroke="#111" stroke-width="0.6">D. virilis</text>
<text transform="translate(862 782.1) scale(0.953 1)" font-family="Liberation Sans" font-style="italic" font-size="21.5" fill="#111" stroke="#111" stroke-width="0.6">D. americana</text>
<text transform="translate(862 804.6) scale(0.953 1)" font-family="Liberation Sans" font-style="italic" font-size="21.5" fill="#111" stroke="#111" stroke-width="0.6">D. novamexicana</text>
<text transform="translate(862 827.2) scale(0.953 1)" font-family="Liberation Sans" font-style="italic" font-size="21.5" fill="#111" stroke="#111" stroke-width="0.6">D. lummei</text>
<text transform="translate(862 849.8) scale(0.953 1)" font-family="Liberation Sans" font-style="italic" font-size="21.5" fill="#111" stroke="#111" stroke-width="0.6">D. littoralis</text>
<text transform="translate(862 872.3) scale(0.953 1)" font-family="Liberation Sans" font-style="italic" font-size="21.5" fill="#111" stroke="#111" stroke-width="0.6">D. flavomontana</text>
<text transform="translate(862 894.9) scale(0.953 1)" font-family="Liberation Sans" font-style="italic" font-size="21.5" fill="#111" stroke="#111" stroke-width="0.6">D. lacicola</text>
<text transform="translate(862 917.4) scale(0.953 1)" font-family="Liberation Sans" font-style="italic" font-size="21.5" fill="#111" stroke="#111" stroke-width="0.6">D. borealis</text>
<text transform="translate(862 940) scale(0.953 1)" font-family="Liberation Sans" font-style="italic" font-size="21.5" fill="#111" stroke="#111" stroke-width="0.6">D. repleta</text>
<text transform="translate(862 962.6) scale(0.953 1)" font-family="Liberation Sans" font-style="italic" font-size="21.5" fill="#111" stroke="#111" stroke-width="0.6">D. mercatorum</text>
<text transform="translate(862 985.1) scale(0.953 1)" font-family="Liberation Sans" font-style="italic" font-size="21.5" fill="#111" stroke="#111" stroke-width="0.6">D. buzzatii</text>
<text transform="translate(862 1007.7) scale(0.953 1)" font-family="Liberation Sans" font-style="italic" font-size="21.5" fill="#111" stroke="#111" stroke-width="0.6">D. mulleri</text>
<text transform="translate(862 1030.2) scale(0.953 1)" font-family="Liberation Sans" font-style="italic" font-size="21.5" fill="#111" stroke="#111" stroke-width="0.6">D. arizonae</text>
<text transform="translate(862 1052.8) scale(0.953 1)" font-family="Liberation Sans" font-style="italic" font-size="21.5" fill="#111" stroke="#111" stroke-width="0.6">D. mojavensis</text>
<text transform="translate(862 1075.4) scale(0.953 1)" font-family="Liberation Sans" font-style="italic" font-size="21.5" fill="#111" stroke="#111" stroke-width="0.6">S. rufifrons</text>
<text transform="translate(862 1097.9) scale(0.953 1)" font-family="Liberation Sans" font-style="italic" font-size="21.5" fill="#111" stroke="#111" stroke-width="0.6">S. lebanonensis</text>
<text transform="translate(862 1120.5) scale(0.953 1)" font-family="Liberation Sans" font-style="italic" font-size="21.5" fill="#111" stroke="#111" stroke-width="0.6">S. latifasciaeformis</text>
<text transform="translate(862 1143) scale(0.953 1)" font-family="Liberation Sans" font-style="italic" font-size="21.5" fill="#111" stroke="#111" stroke-width="0.6">C. procnemis</text>
<path d="M1019.8 31.9h2.3M1028.9 31.9h2.3M1038 31.9h2.3M1047.2 31.9h2.3M974.2 54.5h2.3M983.4 54.5h2.3M992.5 54.5h2.3M1001.6 54.5h2.3M1010.7 54.5h2.3M1019.8 54.5h2.3M1028.9 54.5h2.3M1038 54.5h2.3M1047.2 54.5h2.3M1056.3 54.5h2.3M992.5 77h2.3M1001.6 77h2.3M1010.7 77h2.3M1019.8 77h2.3M1028.9 77h2.3M1038 77h2.3M1047.2 77h2.3M1056.3 77h2.3M956 99.6h2.3M965.1 99.6h2.3M974.2 99.6h2.3M983.4 99.6h2.3M992.5 99.6h2.3M1001.6 99.6h2.3M1010.7 99.6h2.3M1019.8 99.6h2.3M1028.9 99.6h2.3M1038 99.6h2.3M1047.2 99.6h2.3M965.1 122.2h2.3M974.2 122.2h2.3M983.4 122.2h2.3M992.5 122.2h2.3M1001.6 122.2h2.3M1010.7 122.2h2.3M1019.8 122.2h2.3M1028.9 122.2h2.3M1038 122.2h2.3M1047.2 122.2h2.3M965.1 144.8h2.3M974.2 144.8h2.3M983.4 144.8h2.3M992.5 144.8h2.3M1001.6 144.8h2.3M1010.7 144.8h2.3M1019.8 144.8h2.3M1028.9 144.8h2.3M1038 144.8h2.3M1047.2 144.8h2.3M956 167.3h2.3M965.1 167.3h2.3M974.2 167.3h2.3M983.4 167.3h2.3M992.5 167.3h2.3M1001.6 167.3h2.3M1010.7 167.3h2.3M1019.8 167.3h2.3M1028.9 167.3h2.3M1038 167.3h2.3M1047.2 167.3h2.3M983.4 189.9h2.3M992.5 189.9h2.3M1001.6 189.9h2.3M1010.7 189.9h2.3M1019.8 189.9h2.3M1028.9 189.9h2.3M1038 189.9h2.3M983.4 212.5h2.3M992.5 212.5h2.3M1001.6 212.5h2.3M1010.7 212.5h2.3M1019.8 212.5h2.3M1028.9 212.5h2.3M1038 212.5h2.3M1001.6 235.1h2.3M1010.7 235.1h2.3M1019.8 235.1h2.3M1028.9 235.1h2.3M1038 235.1h2.3M1047.2 235.1h2.3M1056.3 235.1h2.3M1065.4 235.1h2.3M1074.5 235.1h2.3M965.1 257.6h2.3M974.2 257.6h2.3M983.4 257.6h2.3M992.5 257.6h2.3M1001.6 257.6h2.3M1010.7 257.6h2.3M1019.8 257.6h2.3M1028.9 257.6h2.3M1038 257.6h2.3M1047.2 257.6h2.3M1056.3 257.6h2.3M1065.4 257.6h2.3M1074.5 257.6h2.3M965.1 280.2h2.3M974.2 280.2h2.3M983.4 280.2h2.3M992.5 280.2h2.3M1001.6 280.2h2.3M1010.7 280.2h2.3M1019.8 280.2h2.3M1028.9 280.2h2.3M1038 280.2h2.3M1047.2 280.2h2.3M1056.3 280.2h2.3M946.9 302.8h2.3M956 302.8h2.3M965.1 302.8h2.3M974.2 302.8h2.3M983.4 302.8h2.3M992.5 302.8h2.3M1001.6 302.8h2.3M1010.7 302.8h2.3M1019.8 302.8h2.3M1028.9 302.8h2.3M1038 302.8h2.3M1047.2 302.8h2.3M974.2 325.4h2.3M983.4 325.4h2.3M992.5 325.4h2.3M1001.6 325.4h2.3M1010.7 325.4h2.3M1019.8 325.4h2.3M1028.9 325.4h2.3M1038 325.4h2.3M1047.2 325.4h2.3M1056.3 325.4h2.3M1065.4 325.4h2.3M1074.5 325.4h2.3M1083.6 325.4h2.3M1001.6 347.9h2.3M1010.7 347.9h2.3M1019.8 347.9h2.3M1028.9 347.9h2.3M1038 347.9h2.3M1047.2 347.9h2.3M1056.3 347.9h2.3M992.5 393.1h2.3M1001.6 393.1h2.3M1010.7 393.1h2.3M1019.8 393.1h2.3M1028.9 393.1h2.3M1038 393.1h2.3M1047.2 393.1h2.3M1056.3 393.1h2.3M1038 415.7h2.3M1047.2 415.7h2.3M1056.3 415.7h2.3M1065.4 415.7h2.3M1074.5 415.7h2.3M1083.6 415.7h2.3M1092.7 415.7h2.3M1101.8 415.7h2.3M1110.9 415.7h2.3M1120.1 415.7h2.3M1129.2 415.7h2.3M983.4 438.2h2.3M992.5 438.2h2.3M1001.6 438.2h2.3M1010.7 438.2h2.3M1019.8 438.2h2.3M1028.9 438.2h2.3M1038 438.2h2.3M1047.2 438.2h2.3M1056.3 438.2h2.3M1065.4 438.2h2.3M1074.5 438.2h2.3M1083.6 438.2h2.3M1092.7 438.2h2.3M1101.8 438.2h2.3M1110.9 438.2h2.3M1120.1 438.2h2.3M1129.2 438.2h2.3M956 460.8h2.3M965.1 460.8h2.3M974.2 460.8h2.3M983.4 460.8h2.3M992.5 460.8h2.3M1001.6 460.8h2.3M1010.7 460.8h2.3M1019.8 460.8h2.3M1028.9 460.8h2.3M1038 460.8h2.3M1047.2 460.8h2.3M1056.3 460.8h2.3M1065.4 460.8h2.3M1074.5 460.8h2.3M1083.6 460.8h2.3M1092.7 460.8h2.3M1101.8 460.8h2.3M1110.9 460.8h2.3M1120.1 460.8h2.3M946.9 483.4h2.3M956 483.4h2.3M965.1 483.4h2.3M974.2 483.4h2.3M983.4 483.4h2.3M992.5 483.4h2.3M1001.6 483.4h2.3M1010.7 483.4h2.3M1019.8 483.4h2.3M1028.9 483.4h2.3M1038 483.4h2.3M1047.2 483.4h2.3M1056.3 483.4h2.3M1065.4 483.4h2.3M1074.5 483.4h2.3M1083.6 483.4h2.3M1092.7 483.4h2.3M1101.8 483.4h2.3M1110.9 483.4h2.3M1120.1 483.4h2.3M974.2 506h2.3M983.4 506h2.3M992.5 506h2.3M1001.6 506h2.3M1010.7 506h2.3M1019.8 506h2.3M1028.9 506h2.3M1038 506h2.3M1047.2 506h2.3M1056.3 506h2.3M1001.6 528.5h2.3M1010.7 528.5h2.3M1019.8 528.5h2.3M1028.9 528.5h2.3M1038 528.5h2.3M1047.2 528.5h2.3M1001.6 551.1h2.3M1010.7 551.1h2.3M1019.8 551.1h2.3M1028.9 551.1h2.3M1038 551.1h2.3M1047.2 551.1h2.3M983.4 573.7h2.3M992.5 573.7h2.3M1001.6 573.7h2.3M1010.7 573.7h2.3M1019.8 573.7h2.3M1028.9 573.7h2.3M1038 573.7h2.3M1047.2 573.7h2.3M1056.3 573.7h2.3M1065.4 573.7h2.3M1074.5 573.7h2.3M992.5 596.3h2.3M1001.6 596.3h2.3M1010.7 596.3h2.3M1019.8 596.3h2.3M1028.9 596.3h2.3M1038 596.3h2.3M1047.2 596.3h2.3M1056.3 596.3h2.3M965.1 618.8h2.3M974.2 618.8h2.3M983.4 618.8h2.3M992.5 618.8h2.3M1001.6 618.8h2.3M1010.7 618.8h2.3M1019.8 618.8h2.3M1028.9 618.8h2.3M1038 618.8h2.3M1047.2 618.8h2.3M1056.3 618.8h2.3M1065.4 618.8h2.3M992.5 641.4h2.3M1001.6 641.4h2.3M1010.7 641.4h2.3M1019.8 641.4h2.3M1028.9 641.4h2.3M1038 641.4h2.3M1047.2 641.4h2.3M1056.3 641.4h2.3M1065.4 641.4h2.3M1001.6 664h2.3M1010.7 664h2.3M1019.8 664h2.3M1028.9 664h2.3M1038 664h2.3M1047.2 664h2.3M1056.3 664h2.3M1065.4 664h2.3M1074.5 664h2.3M1083.6 664h2.3M1092.7 664h2.3M1101.8 664h2.3M1110.9 664h2.3M1120.1 664h2.3M1129.2 664h2.3M1138.3 664h2.3M956 686.6h2.3M965.1 686.6h2.3M974.2 686.6h2.3M983.4 686.6h2.3M992.5 686.6h2.3M1001.6 686.6h2.3M1010.7 686.6h2.3M1019.8 686.6h2.3M1028.9 686.6h2.3M1038 686.6h2.3M1047.2 686.6h2.3M1056.3 686.6h2.3M1065.4 686.6h2.3M1074.5 686.6h2.3M1083.6 686.6h2.3M1092.7 686.6h2.3M1101.8 686.6h2.3M1110.9 686.6h2.3M1120.1 686.6h2.3M1129.2 686.6h2.3M1138.3 686.6h2.3M1010.7 709.1h2.3M1019.8 709.1h2.3M1028.9 709.1h2.3M1038 709.1h2.3M1047.2 709.1h2.3M1056.3 709.1h2.3M1065.4 709.1h2.3M1074.5 709.1h2.3M1083.6 709.1h2.3M1092.7 709.1h2.3M1101.8 709.1h2.3M1110.9 709.1h2.3M1120.1 709.1h2.3M1129.2 709.1h2.3M1138.3 709.1h2.3M992.5 731.7h2.3M1001.6 731.7h2.3M1010.7 731.7h2.3M1019.8 731.7h2.3M1028.9 731.7h2.3M1038 731.7h2.3M1047.2 731.7h2.3M1056.3 731.7h2.3M1065.4 731.7h2.3M1074.5 731.7h2.3M1083.6 731.7h2.3M1092.7 731.7h2.3M1101.8 731.7h2.3M1110.9 731.7h2.3M1120.1 731.7h2.3M1129.2 731.7h2.3M1138.3 731.7h2.3M1147.4 731.7h2.3M1156.5 731.7h2.3M946.9 754.3h2.3M956 754.3h2.3M965.1 754.3h2.3M974.2 754.3h2.3M983.4 754.3h2.3M992.5 754.3h2.3M1001.6 754.3h2.3M1010.7 754.3h2.3M1019.8 754.3h2.3M1028.9 754.3h2.3M1038 754.3h2.3M1047.2 754.3h2.3M1056.3 754.3h2.3M1065.4 754.3h2.3M1074.5 754.3h2.3M1083.6 754.3h2.3M1092.7 754.3h2.3M1101.8 754.3h2.3M1110.9 754.3h2.3M1120.1 754.3h2.3M1129.2 754.3h2.3M1138.3 754.3h2.3M1147.4 754.3h2.3M1156.5 754.3h2.3M1165.6 754.3h2.3M1174.7 754.3h2.3M1183.8 754.3h2.3M992.5 776.9h2.3M1001.6 776.9h2.3M1010.7 776.9h2.3M1019.8 776.9h2.3M1028.9 776.9h2.3M1038 776.9h2.3M1047.2 776.9h2.3M1056.3 776.9h2.3M1065.4 776.9h2.3M1074.5 776.9h2.3M1083.6 776.9h2.3M1092.7 776.9h2.3M1101.8 776.9h2.3M1110.9 776.9h2.3M1120.1 776.9h2.3M1129.2 776.9h2.3M1138.3 776.9h2.3M1147.4 776.9h2.3M1156.5 776.9h2.3M1165.6 776.9h2.3M1174.7 776.9h2.3M1183.8 776.9h2.3M1028.9 799.4h2.3M1038 799.4h2.3M1047.2 799.4h2.3M1056.3 799.4h2.3M1065.4 799.4h2.3M1074.5 799.4h2.3M1083.6 799.4h2.3M1092.7 799.4h2.3M1101.8 799.4h2.3M1110.9 799.4h2.3M1120.1 799.4h2.3M1129.2 799.4h2.3M1138.3 799.4h2.3M1147.4 799.4h2.3M1156.5 799.4h2.3M1165.6 799.4h2.3M1174.7 799.4h2.3M1183.8 799.4h2.3M965.1 822h2.3M974.2 822h2.3M983.4 822h2.3M992.5 822h2.3M1001.6 822h2.3M1010.7 822h2.3M1019.8 822h2.3M1028.9 822h2.3M1038 822h2.3M1047.2 822h2.3M1056.3 822h2.3M1065.4 822h2.3M1074.5 822h2.3M1083.6 822h2.3M1092.7 822h2.3M1101.8 822h2.3M1110.9 822h2.3M1120.1 822h2.3M1129.2 822h2.3M1138.3 822h2.3M1147.4 822h2.3M1156.5 822h2.3M1165.6 822h2.3M1174.7 822h2.3M1183.8 822h2.3M1193 822h2.3M965.1 844.6h2.3M974.2 844.6h2.3M983.4 844.6h2.3M992.5 844.6h2.3M1001.6 844.6h2.3M1010.7 844.6h2.3M1019.8 844.6h2.3M1028.9 844.6h2.3M1038 844.6h2.3M1047.2 844.6h2.3M1056.3 844.6h2.3M1065.4 844.6h2.3M1074.5 844.6h2.3M1083.6 844.6h2.3M1092.7 844.6h2.3M1101.8 844.6h2.3M1110.9 844.6h2.3M1120.1 844.6h2.3M1129.2 844.6h2.3M1138.3 844.6h2.3M1147.4 844.6h2.3M1156.5 844.6h2.3M1165.6 844.6h2.3M1174.7 844.6h2.3M1183.8 844.6h2.3M1193 844.6h2.3M1019.8 867.2h2.3M1028.9 867.2h2.3M1038 867.2h2.3M1047.2 867.2h2.3M1056.3 867.2h2.3M1065.4 867.2h2.3M1074.5 867.2h2.3M1083.6 867.2h2.3M1092.7 867.2h2.3M1101.8 867.2h2.3M1110.9 867.2h2.3M1120.1 867.2h2.3M1129.2 867.2h2.3M1138.3 867.2h2.3M1147.4 867.2h2.3M1156.5 867.2h2.3M1165.6 867.2h2.3M1174.7 867.2h2.3M1183.8 867.2h2.3M1193 867.2h2.3M965.1 889.8h2.3M974.2 889.8h2.3M983.4 889.8h2.3M992.5 889.8h2.3M1001.6 889.8h2.3M1010.7 889.8h2.3M1019.8 889.8h2.3M1028.9 889.8h2.3M1038 889.8h2.3M1047.2 889.8h2.3M1056.3 889.8h2.3M1065.4 889.8h2.3M1074.5 889.8h2.3M1083.6 889.8h2.3M1092.7 889.8h2.3M1101.8 889.8h2.3M1110.9 889.8h2.3M1120.1 889.8h2.3M1129.2 889.8h2.3M1138.3 889.8h2.3M1147.4 889.8h2.3M1156.5 889.8h2.3M1165.6 889.8h2.3M1174.7 889.8h2.3M1183.8 889.8h2.3M1193 889.8h2.3M1202.1 889.8h2.3M965.1 912.3h2.3M974.2 912.3h2.3M983.4 912.3h2.3M992.5 912.3h2.3M1001.6 912.3h2.3M1010.7 912.3h2.3M1019.8 912.3h2.3M1028.9 912.3h2.3M1038 912.3h2.3M1047.2 912.3h2.3M1056.3 912.3h2.3M1065.4 912.3h2.3M1074.5 912.3h2.3M1083.6 912.3h2.3M1092.7 912.3h2.3M1101.8 912.3h2.3M1110.9 912.3h2.3M1120.1 912.3h2.3M1129.2 912.3h2.3M1138.3 912.3h2.3M1147.4 912.3h2.3M1156.5 912.3h2.3M1165.6 912.3h2.3M1174.7 912.3h2.3M1183.8 912.3h2.3M1193 912.3h2.3M956 934.9h2.3M965.1 934.9h2.3M974.2 934.9h2.3M983.4 934.9h2.3M992.5 934.9h2.3M1001.6 934.9h2.3M1010.7 934.9h2.3M1019.8 934.9h2.3M1028.9 934.9h2.3M1038 934.9h2.3M1047.2 934.9h2.3M1056.3 934.9h2.3M1065.4 934.9h2.3M1074.5 934.9h2.3M1083.6 934.9h2.3M1092.7 934.9h2.3M1101.8 934.9h2.3M1110.9 934.9h2.3M1120.1 934.9h2.3M1129.2 934.9h2.3M1010.7 957.5h2.3M1019.8 957.5h2.3M1028.9 957.5h2.3M1038 957.5h2.3M1047.2 957.5h2.3M1056.3 957.5h2.3M1065.4 957.5h2.3M1074.5 957.5h2.3M1083.6 957.5h2.3M1092.7 957.5h2.3M1101.8 957.5h2.3M1110.9 957.5h2.3M965.1 980h2.3M974.2 980h2.3M983.4 980h2.3M992.5 980h2.3M1001.6 980h2.3M1010.7 980h2.3M1019.8 980h2.3M1028.9 980h2.3M1038 980h2.3M1047.2 980h2.3M1056.3 980h2.3M1065.4 980h2.3M1074.5 980h2.3M1083.6 980h2.3M1092.7 980h2.3M1101.8 980h2.3M956 1002.6h2.3M965.1 1002.6h2.3M974.2 1002.6h2.3M983.4 1002.6h2.3M992.5 1002.6h2.3M1001.6 1002.6h2.3M1010.7 1002.6h2.3M1019.8 1002.6h2.3M1028.9 1002.6h2.3M1038 1002.6h2.3M1047.2 1002.6h2.3M1056.3 1002.6h2.3M1065.4 1002.6h2.3M1074.5 1002.6h2.3M1083.6 1002.6h2.3M1092.7 1002.6h2.3M1101.8 1002.6h2.3M1110.9 1002.6h2.3M1120.1 1002.6h2.3M974.2 1025.2h2.3M983.4 1025.2h2.3M992.5 1025.2h2.3M1001.6 1025.2h2.3M1010.7 1025.2h2.3M1019.8 1025.2h2.3M1028.9 1025.2h2.3M1038 1025.2h2.3M1047.2 1025.2h2.3M1056.3 1025.2h2.3M1065.4 1025.2h2.3M1074.5 1025.2h2.3M1083.6 1025.2h2.3M1092.7 1025.2h2.3M1101.8 1025.2h2.3M1110.9 1025.2h2.3M1001.6 1047.8h2.3M1010.7 1047.8h2.3M1019.8 1047.8h2.3M1028.9 1047.8h2.3M1038 1047.8h2.3M1047.2 1047.8h2.3M1056.3 1047.8h2.3M1065.4 1047.8h2.3M1074.5 1047.8h2.3M1083.6 1047.8h2.3M1092.7 1047.8h2.3M1101.8 1047.8h2.3M1110.9 1047.8h2.3M974.2 1070.4h2.3M983.4 1070.4h2.3M992.5 1070.4h2.3M1001.6 1070.4h2.3M1010.7 1070.4h2.3M1019.8 1070.4h2.3M1028.9 1070.4h2.3M1038 1070.4h2.3M1047.2 1070.4h2.3M1056.3 1070.4h2.3M1065.4 1070.4h2.3M1074.5 1070.4h2.3M1083.6 1070.4h2.3M1092.7 1070.4h2.3M1101.8 1070.4h2.3M1110.9 1070.4h2.3M1120.1 1070.4h2.3M1129.2 1070.4h2.3M1138.3 1070.4h2.3M1147.4 1070.4h2.3M1156.5 1070.4h2.3M1019.8 1092.9h2.3M1028.9 1092.9h2.3M1038 1092.9h2.3M1047.2 1092.9h2.3M1056.3 1092.9h2.3M1065.4 1092.9h2.3M1074.5 1092.9h2.3M1083.6 1092.9h2.3M1092.7 1092.9h2.3M1101.8 1092.9h2.3M1110.9 1092.9h2.3M1120.1 1092.9h2.3M1129.2 1092.9h2.3M1138.3 1092.9h2.3M1047.2 1115.5h2.3M1056.3 1115.5h2.3M1065.4 1115.5h2.3M1074.5 1115.5h2.3M1083.6 1115.5h2.3M1092.7 1115.5h2.3M1101.8 1115.5h2.3M1110.9 1115.5h2.3M1120.1 1115.5h2.3M1129.2 1115.5h2.3M1138.3 1115.5h2.3M1147.4 1115.5h2.3M1156.5 1115.5h2.3M1165.6 1115.5h2.3M1174.7 1115.5h2.3M1183.8 1115.5h2.3M992.5 1138.1h2.3M1001.6 1138.1h2.3M1010.7 1138.1h2.3M1019.8 1138.1h2.3M1028.9 1138.1h2.3M1038 1138.1h2.3M1047.2 1138.1h2.3M1056.3 1138.1h2.3M1065.4 1138.1h2.3M1074.5 1138.1h2.3M1083.6 1138.1h2.3M1092.7 1138.1h2.3M1101.8 1138.1h2.3M1110.9 1138.1h2.3M1120.1 1138.1h2.3M1129.2 1138.1h2.3M1138.3 1138.1h2.3M1147.4 1138.1h2.3M1156.5 1138.1h2.3M1165.6 1138.1h2.3M1174.7 1138.1h2.3M1183.8 1138.1h2.3M1193 1138.1h2.3M1202.1 1138.1h2.3M1211.2 1138.1h2.3M1220.3 1138.1h2.3M1229.4 1138.1h2.3M1238.5 1138.1h2.3M1247.6 1138.1h2.3" fill="none" stroke="#4a4a4a" stroke-width="2.3"/>
<defs><linearGradient id="g1" gradientUnits="userSpaceOnUse" x1="1471.9" y1="0" x2="1519.8" y2="0"><stop offset="0" stop-color="#46e620"/><stop offset="1" stop-color="#70e620"/></linearGradient><linearGradient id="g2" gradientUnits="userSpaceOnUse" x1="1258.9" y1="0" x2="1519.8" y2="0"><stop offset="0" stop-color="#e6b520"/><stop offset="1" stop-color="#70e620"/></linearGradient><linearGradient id="g3" gradientUnits="userSpaceOnUse" x1="1413.5" y1="0" x2="1474.5" y2="0"><stop offset="0" stop-color="#2ee620"/><stop offset="1" stop-color="#46e620"/></linearGradient><linearGradient id="g4" gradientUnits="userSpaceOnUse" x1="1358.5" y1="0" x2="1474.5" y2="0"><stop offset="0" stop-color="#a2e620"/><stop offset="1" stop-color="#46e620"/></linearGradient><linearGradient id="g5" gradientUnits="userSpaceOnUse" x1="1190.6" y1="0" x2="1361.1" y2="0"><stop offset="0" stop-color="#e67320"/><stop offset="1" stop-color="#a2e620"/></linearGradient><linearGradient id="g6" gradientUnits="userSpaceOnUse" x1="1193.2" y1="0" x2="1361.1" y2="0"><stop offset="0" stop-color="#20e634"/><stop offset="1" stop-color="#a2e620"/></linearGradient><linearGradient id="g7" gradientUnits="userSpaceOnUse" x1="1166" y1="0" x2="1193.2" y2="0"><stop offset="0" stop-color="#e63920"/><stop offset="1" stop-color="#e67320"/></linearGradient><linearGradient id="g8" gradientUnits="userSpaceOnUse" x1="1147.2" y1="0" x2="1193.2" y2="0"><stop offset="0" stop-color="#e69c20"/><stop offset="1" stop-color="#e67320"/></linearGradient><linearGradient id="g9" gradientUnits="userSpaceOnUse" x1="1383.7" y1="0" x2="1416.1" y2="0"><stop offset="0" stop-color="#20e623"/><stop offset="1" stop-color="#2ee620"/></linearGradient><linearGradient id="g10" gradientUnits="userSpaceOnUse" x1="1354.4" y1="0" x2="1416.1" y2="0"><stop offset="0" stop-color="#36e620"/><stop offset="1" stop-color="#2ee620"/></linearGradient><linearGradient id="g11" gradientUnits="userSpaceOnUse" x1="1318.2" y1="0" x2="1386.3" y2="0"><stop offset="0" stop-color="#20e634"/><stop offset="1" stop-color="#20e623"/></linearGradient><linearGradient id="g12" gradientUnits="userSpaceOnUse" x1="1188" y1="0" x2="1386.3" y2="0"><stop offset="0" stop-color="#20e644"/><stop offset="1" stop-color="#20e623"/></linearGradient><linearGradient id="g13" gradientUnits="userSpaceOnUse" x1="1241.4" y1="0" x2="1320.8" y2="0"><stop offset="0" stop-color="#20e6a8"/><stop offset="1" stop-color="#20e634"/></linearGradient><linearGradient id="g14" gradientUnits="userSpaceOnUse" x1="1180" y1="0" x2="1320.8" y2="0"><stop offset="0" stop-color="#91e620"/><stop offset="1" stop-color="#20e634"/></linearGradient><linearGradient id="g15" gradientUnits="userSpaceOnUse" x1="1218.5" y1="0" x2="1244" y2="0"><stop offset="0" stop-color="#20e6c1"/><stop offset="1" stop-color="#20e6a8"/></linearGradient><linearGradient id="g16" gradientUnits="userSpaceOnUse" x1="1113.2" y1="0" x2="1244" y2="0"><stop offset="0" stop-color="#20afe6"/><stop offset="1" stop-color="#20e6a8"/></linearGradient><linearGradient id="g17" gradientUnits="userSpaceOnUse" x1="1171.1" y1="0" x2="1221.1" y2="0"><stop offset="0" stop-color="#20e6c9"/><stop offset="1" stop-color="#20e6c1"/></linearGradient><linearGradient id="g18" gradientUnits="userSpaceOnUse" x1="1136.9" y1="0" x2="1221.1" y2="0"><stop offset="0" stop-color="#20e6c9"/><stop offset="1" stop-color="#20e6c1"/></linearGradient><linearGradient id="g19" gradientUnits="userSpaceOnUse" x1="1161.6" y1="0" x2="1173.7" y2="0"><stop offset="0" stop-color="#20e6d1"/><stop offset="1" stop-color="#20e6c9"/></linearGradient><linearGradient id="g20" gradientUnits="userSpaceOnUse" x1="1093" y1="0" x2="1173.7" y2="0"><stop offset="0" stop-color="#20e68f"/><stop offset="1" stop-color="#20e6c9"/></linearGradient><linearGradient id="g21" gradientUnits="userSpaceOnUse" x1="1148.3" y1="0" x2="1164.2" y2="0"><stop offset="0" stop-color="#20e6e2"/><stop offset="1" stop-color="#20e6d1"/></linearGradient><linearGradient id="g22" gradientUnits="userSpaceOnUse" x1="1047" y1="0" x2="1164.2" y2="0"><stop offset="0" stop-color="#20e623"/><stop offset="1" stop-color="#20e6d1"/></linearGradient><linearGradient id="g23" gradientUnits="userSpaceOnUse" x1="1098.1" y1="0" x2="1150.9" y2="0"><stop offset="0" stop-color="#2064e6"/><stop offset="1" stop-color="#20e6e2"/></linearGradient><linearGradient id="g24" gradientUnits="userSpaceOnUse" x1="1095.1" y1="0" x2="1150.9" y2="0"><stop offset="0" stop-color="#20e6e2"/><stop offset="1" stop-color="#20e6e2"/></linearGradient><linearGradient id="g25" gradientUnits="userSpaceOnUse" x1="1076.7" y1="0" x2="1100.7" y2="0"><stop offset="0" stop-color="#2064e6"/><stop offset="1" stop-color="#2064e6"/></linearGradient><linearGradient id="g26" gradientUnits="userSpaceOnUse" x1="1087" y1="0" x2="1100.7" y2="0"><stop offset="0" stop-color="#2054e6"/><stop offset="1" stop-color="#2064e6"/></linearGradient><linearGradient id="g27" gradientUnits="userSpaceOnUse" x1="1052.7" y1="0" x2="1079.3" y2="0"><stop offset="0" stop-color="#20a7e6"/><stop offset="1" stop-color="#2064e6"/></linearGradient><linearGradient id="g28" gradientUnits="userSpaceOnUse" x1="1069.4" y1="0" x2="1079.3" y2="0"><stop offset="0" stop-color="#2043e6"/><stop offset="1" stop-color="#2064e6"/></linearGradient><linearGradient id="g29" gradientUnits="userSpaceOnUse" x1="1061.6" y1="0" x2="1072" y2="0"><stop offset="0" stop-color="#2064e6"/><stop offset="1" stop-color="#2043e6"/></linearGradient><linearGradient id="g30" gradientUnits="userSpaceOnUse" x1="1060.8" y1="0" x2="1072" y2="0"><stop offset="0" stop-color="#2022e6"/><stop offset="1" stop-color="#2043e6"/></linearGradient><linearGradient id="g31" gradientUnits="userSpaceOnUse" x1="1054.2" y1="0" x2="1089.6" y2="0"><stop offset="0" stop-color="#2620e6"/><stop offset="1" stop-color="#2054e6"/></linearGradient><linearGradient id="g32" gradientUnits="userSpaceOnUse" x1="1073" y1="0" x2="1089.6" y2="0"><stop offset="0" stop-color="#205ce6"/><stop offset="1" stop-color="#2054e6"/></linearGradient><linearGradient id="g33" gradientUnits="userSpaceOnUse" x1="1060.1" y1="0" x2="1075.6" y2="0"><stop offset="0" stop-color="#20a7e6"/><stop offset="1" stop-color="#205ce6"/></linearGradient><linearGradient id="g34" gradientUnits="userSpaceOnUse" x1="1059.4" y1="0" x2="1075.6" y2="0"><stop offset="0" stop-color="#202ae6"/><stop offset="1" stop-color="#205ce6"/></linearGradient><linearGradient id="g35" gradientUnits="userSpaceOnUse" x1="1058.6" y1="0" x2="1097.7" y2="0"><stop offset="0" stop-color="#20e697"/><stop offset="1" stop-color="#20e6e2"/></linearGradient><linearGradient id="g36" gradientUnits="userSpaceOnUse" x1="1045.3" y1="0" x2="1097.7" y2="0"><stop offset="0" stop-color="#2075e6"/><stop offset="1" stop-color="#20e6e2"/></linearGradient><linearGradient id="g37" gradientUnits="userSpaceOnUse" x1="1080" y1="0" x2="1095.6" y2="0"><stop offset="0" stop-color="#20e67e"/><stop offset="1" stop-color="#20e68f"/></linearGradient><linearGradient id="g38" gradientUnits="userSpaceOnUse" x1="1082.5" y1="0" x2="1095.6" y2="0"><stop offset="0" stop-color="#20e67e"/><stop offset="1" stop-color="#20e68f"/></linearGradient><linearGradient id="g39" gradientUnits="userSpaceOnUse" x1="1121.9" y1="0" x2="1139.5" y2="0"><stop offset="0" stop-color="#20e6b8"/><stop offset="1" stop-color="#20e6c9"/></linearGradient><linearGradient id="g40" gradientUnits="userSpaceOnUse" x1="1092.6" y1="0" x2="1139.5" y2="0"><stop offset="0" stop-color="#2075e6"/><stop offset="1" stop-color="#20e6c9"/></linearGradient><linearGradient id="g41" gradientUnits="userSpaceOnUse" x1="1064" y1="0" x2="1124.5" y2="0"><stop offset="0" stop-color="#46e620"/><stop offset="1" stop-color="#20e6b8"/></linearGradient><linearGradient id="g42" gradientUnits="userSpaceOnUse" x1="1056" y1="0" x2="1124.5" y2="0"><stop offset="0" stop-color="#20e6c1"/><stop offset="1" stop-color="#20e6b8"/></linearGradient><linearGradient id="g43" gradientUnits="userSpaceOnUse" x1="1067.5" y1="0" x2="1115.8" y2="0"><stop offset="0" stop-color="#20a7e6"/><stop offset="1" stop-color="#20afe6"/></linearGradient><linearGradient id="g44" gradientUnits="userSpaceOnUse" x1="1083.3" y1="0" x2="1115.8" y2="0"><stop offset="0" stop-color="#209ee6"/><stop offset="1" stop-color="#20afe6"/></linearGradient><linearGradient id="g45" gradientUnits="userSpaceOnUse" x1="1061.3" y1="0" x2="1085.9" y2="0"><stop offset="0" stop-color="#20d8e6"/><stop offset="1" stop-color="#209ee6"/></linearGradient><linearGradient id="g46" gradientUnits="userSpaceOnUse" x1="1066.6" y1="0" x2="1085.9" y2="0"><stop offset="0" stop-color="#2064e6"/><stop offset="1" stop-color="#209ee6"/></linearGradient><linearGradient id="g47" gradientUnits="userSpaceOnUse" x1="1138.7" y1="0" x2="1182.6" y2="0"><stop offset="0" stop-color="#c3e620"/><stop offset="1" stop-color="#91e620"/></linearGradient><linearGradient id="g48" gradientUnits="userSpaceOnUse" x1="1150.5" y1="0" x2="1182.6" y2="0"><stop offset="0" stop-color="#a2e620"/><stop offset="1" stop-color="#91e620"/></linearGradient><linearGradient id="g49" gradientUnits="userSpaceOnUse" x1="1133.9" y1="0" x2="1141.3" y2="0"><stop offset="0" stop-color="#d3e620"/><stop offset="1" stop-color="#c3e620"/></linearGradient><linearGradient id="g50" gradientUnits="userSpaceOnUse" x1="1138.4" y1="0" x2="1141.3" y2="0"><stop offset="0" stop-color="#dce620"/><stop offset="1" stop-color="#c3e620"/></linearGradient><linearGradient id="g51" gradientUnits="userSpaceOnUse" x1="1132.5" y1="0" x2="1153.1" y2="0"><stop offset="0" stop-color="#99e620"/><stop offset="1" stop-color="#a2e620"/></linearGradient><linearGradient id="g52" gradientUnits="userSpaceOnUse" x1="1127.2" y1="0" x2="1153.1" y2="0"><stop offset="0" stop-color="#80e620"/><stop offset="1" stop-color="#a2e620"/></linearGradient><linearGradient id="g53" gradientUnits="userSpaceOnUse" x1="1154.8" y1="0" x2="1190.6" y2="0"><stop offset="0" stop-color="#20e676"/><stop offset="1" stop-color="#20e644"/></linearGradient><linearGradient id="g54" gradientUnits="userSpaceOnUse" x1="1138.5" y1="0" x2="1190.6" y2="0"><stop offset="0" stop-color="#20e623"/><stop offset="1" stop-color="#20e644"/></linearGradient><linearGradient id="g55" gradientUnits="userSpaceOnUse" x1="1084.9" y1="0" x2="1157.4" y2="0"><stop offset="0" stop-color="#20e6b8"/><stop offset="1" stop-color="#20e676"/></linearGradient><linearGradient id="g56" gradientUnits="userSpaceOnUse" x1="1079.3" y1="0" x2="1157.4" y2="0"><stop offset="0" stop-color="#20e687"/><stop offset="1" stop-color="#20e676"/></linearGradient><linearGradient id="g57" gradientUnits="userSpaceOnUse" x1="1067.8" y1="0" x2="1087.5" y2="0"><stop offset="0" stop-color="#20e6a8"/><stop offset="1" stop-color="#20e6b8"/></linearGradient><linearGradient id="g58" gradientUnits="userSpaceOnUse" x1="1076.7" y1="0" x2="1087.5" y2="0"><stop offset="0" stop-color="#20e6c9"/><stop offset="1" stop-color="#20e6b8"/></linearGradient><linearGradient id="g59" gradientUnits="userSpaceOnUse" x1="1060.4" y1="0" x2="1079.3" y2="0"><stop offset="0" stop-color="#20e6d1"/><stop offset="1" stop-color="#20e6c9"/></linearGradient><linearGradient id="g60" gradientUnits="userSpaceOnUse" x1="1060.4" y1="0" x2="1079.3" y2="0"><stop offset="0" stop-color="#20e6d1"/><stop offset="1" stop-color="#20e6c9"/></linearGradient><linearGradient id="g61" gradientUnits="userSpaceOnUse" x1="1085.6" y1="0" x2="1141.1" y2="0"><stop offset="0" stop-color="#25e620"/><stop offset="1" stop-color="#20e623"/></linearGradient><linearGradient id="g62" gradientUnits="userSpaceOnUse" x1="1069.9" y1="0" x2="1141.1" y2="0"><stop offset="0" stop-color="#20e634"/><stop offset="1" stop-color="#20e623"/></linearGradient><linearGradient id="g63" gradientUnits="userSpaceOnUse" x1="1067.1" y1="0" x2="1088.2" y2="0"><stop offset="0" stop-color="#20e623"/><stop offset="1" stop-color="#25e620"/></linearGradient><linearGradient id="g64" gradientUnits="userSpaceOnUse" x1="1072.6" y1="0" x2="1088.2" y2="0"><stop offset="0" stop-color="#5fe620"/><stop offset="1" stop-color="#25e620"/></linearGradient><linearGradient id="g65" gradientUnits="userSpaceOnUse" x1="1248.7" y1="0" x2="1357" y2="0"><stop offset="0" stop-color="#20e65d"/><stop offset="1" stop-color="#36e620"/></linearGradient><linearGradient id="g66" gradientUnits="userSpaceOnUse" x1="1300.4" y1="0" x2="1357" y2="0"><stop offset="0" stop-color="#70e620"/><stop offset="1" stop-color="#36e620"/></linearGradient><linearGradient id="g67" gradientUnits="userSpaceOnUse" x1="1156.8" y1="0" x2="1251.3" y2="0"><stop offset="0" stop-color="#20e6a8"/><stop offset="1" stop-color="#20e65d"/></linearGradient><linearGradient id="g68" gradientUnits="userSpaceOnUse" x1="1164.5" y1="0" x2="1251.3" y2="0"><stop offset="0" stop-color="#20e623"/><stop offset="1" stop-color="#20e65d"/></linearGradient><linearGradient id="g69" gradientUnits="userSpaceOnUse" x1="1150.4" y1="0" x2="1159.4" y2="0"><stop offset="0" stop-color="#20e6c1"/><stop offset="1" stop-color="#20e6a8"/></linearGradient><linearGradient id="g70" gradientUnits="userSpaceOnUse" x1="1146" y1="0" x2="1159.4" y2="0"><stop offset="0" stop-color="#20e6b0"/><stop offset="1" stop-color="#20e6a8"/></linearGradient><linearGradient id="g71" gradientUnits="userSpaceOnUse" x1="1143.4" y1="0" x2="1153" y2="0"><stop offset="0" stop-color="#20e6c1"/><stop offset="1" stop-color="#20e6c1"/></linearGradient><linearGradient id="g72" gradientUnits="userSpaceOnUse" x1="1144.7" y1="0" x2="1153" y2="0"><stop offset="0" stop-color="#20e6c1"/><stop offset="1" stop-color="#20e6c1"/></linearGradient><linearGradient id="g73" gradientUnits="userSpaceOnUse" x1="1235.5" y1="0" x2="1303" y2="0"><stop offset="0" stop-color="#4fe620"/><stop offset="1" stop-color="#70e620"/></linearGradient><linearGradient id="g74" gradientUnits="userSpaceOnUse" x1="1214" y1="0" x2="1303" y2="0"><stop offset="0" stop-color="#c3e620"/><stop offset="1" stop-color="#70e620"/></linearGradient><linearGradient id="g75" gradientUnits="userSpaceOnUse" x1="1227.9" y1="0" x2="1238.1" y2="0"><stop offset="0" stop-color="#4fe620"/><stop offset="1" stop-color="#4fe620"/></linearGradient><linearGradient id="g76" gradientUnits="userSpaceOnUse" x1="1221.1" y1="0" x2="1238.1" y2="0"><stop offset="0" stop-color="#46e620"/><stop offset="1" stop-color="#4fe620"/></linearGradient><linearGradient id="g77" gradientUnits="userSpaceOnUse" x1="1212.4" y1="0" x2="1230.5" y2="0"><stop offset="0" stop-color="#5fe620"/><stop offset="1" stop-color="#4fe620"/></linearGradient><linearGradient id="g78" gradientUnits="userSpaceOnUse" x1="1197.2" y1="0" x2="1230.5" y2="0"><stop offset="0" stop-color="#46e620"/><stop offset="1" stop-color="#4fe620"/></linearGradient><linearGradient id="g79" gradientUnits="userSpaceOnUse" x1="1192.6" y1="0" x2="1215" y2="0"><stop offset="0" stop-color="#20e623"/><stop offset="1" stop-color="#5fe620"/></linearGradient><linearGradient id="g80" gradientUnits="userSpaceOnUse" x1="1208.2" y1="0" x2="1215" y2="0"><stop offset="0" stop-color="#a2e620"/><stop offset="1" stop-color="#5fe620"/></linearGradient><linearGradient id="g81" gradientUnits="userSpaceOnUse" x1="1198.4" y1="0" x2="1210.8" y2="0"><stop offset="0" stop-color="#c3e620"/><stop offset="1" stop-color="#a2e620"/></linearGradient><linearGradient id="g82" gradientUnits="userSpaceOnUse" x1="1201.7" y1="0" x2="1210.8" y2="0"><stop offset="0" stop-color="#99e620"/><stop offset="1" stop-color="#a2e620"/></linearGradient><linearGradient id="g83" gradientUnits="userSpaceOnUse" x1="1196.4" y1="0" x2="1201" y2="0"><stop offset="0" stop-color="#cbe620"/><stop offset="1" stop-color="#c3e620"/></linearGradient><linearGradient id="g84" gradientUnits="userSpaceOnUse" x1="1195.6" y1="0" x2="1201" y2="0"><stop offset="0" stop-color="#d3e620"/><stop offset="1" stop-color="#c3e620"/></linearGradient><linearGradient id="g85" gradientUnits="userSpaceOnUse" x1="1218.8" y1="0" x2="1223.7" y2="0"><stop offset="0" stop-color="#46e620"/><stop offset="1" stop-color="#46e620"/></linearGradient><linearGradient id="g86" gradientUnits="userSpaceOnUse" x1="1202.5" y1="0" x2="1223.7" y2="0"><stop offset="0" stop-color="#46e620"/><stop offset="1" stop-color="#46e620"/></linearGradient><linearGradient id="g87" gradientUnits="userSpaceOnUse" x1="1205.5" y1="0" x2="1221.4" y2="0"><stop offset="0" stop-color="#3ee620"/><stop offset="1" stop-color="#46e620"/></linearGradient><linearGradient id="g88" gradientUnits="userSpaceOnUse" x1="1206.3" y1="0" x2="1221.4" y2="0"><stop offset="0" stop-color="#3ee620"/><stop offset="1" stop-color="#46e620"/></linearGradient><linearGradient id="g89" gradientUnits="userSpaceOnUse" x1="1177.4" y1="0" x2="1216.6" y2="0"><stop offset="0" stop-color="#70e620"/><stop offset="1" stop-color="#c3e620"/></linearGradient><linearGradient id="g90" gradientUnits="userSpaceOnUse" x1="1185" y1="0" x2="1216.6" y2="0"><stop offset="0" stop-color="#e6c620"/><stop offset="1" stop-color="#c3e620"/></linearGradient><linearGradient id="g91" gradientUnits="userSpaceOnUse" x1="1134.1" y1="0" x2="1180" y2="0"><stop offset="0" stop-color="#36e620"/><stop offset="1" stop-color="#70e620"/></linearGradient><linearGradient id="g92" gradientUnits="userSpaceOnUse" x1="1121.9" y1="0" x2="1180" y2="0"><stop offset="0" stop-color="#89e620"/><stop offset="1" stop-color="#70e620"/></linearGradient><linearGradient id="g93" gradientUnits="userSpaceOnUse" x1="1110.6" y1="0" x2="1187.6" y2="0"><stop offset="0" stop-color="#e6ad20"/><stop offset="1" stop-color="#e6c620"/></linearGradient><linearGradient id="g94" gradientUnits="userSpaceOnUse" x1="1151.2" y1="0" x2="1187.6" y2="0"><stop offset="0" stop-color="#e68420"/><stop offset="1" stop-color="#e6c620"/></linearGradient><linearGradient id="g95" gradientUnits="userSpaceOnUse" x1="1124.7" y1="0" x2="1153.8" y2="0"><stop offset="0" stop-color="#e66b20"/><stop offset="1" stop-color="#e68420"/></linearGradient><linearGradient id="g96" gradientUnits="userSpaceOnUse" x1="1130.6" y1="0" x2="1153.8" y2="0"><stop offset="0" stop-color="#e67320"/><stop offset="1" stop-color="#e68420"/></linearGradient><linearGradient id="g97" gradientUnits="userSpaceOnUse" x1="1120" y1="0" x2="1133.2" y2="0"><stop offset="0" stop-color="#e6ce20"/><stop offset="1" stop-color="#e67320"/></linearGradient><linearGradient id="g98" gradientUnits="userSpaceOnUse" x1="1119.1" y1="0" x2="1133.2" y2="0"><stop offset="0" stop-color="#e63120"/><stop offset="1" stop-color="#e67320"/></linearGradient></defs>
<path d="M1471.9 874H1522.4M1258.9 1139.2H1522.4M1413.5 648.4H1477.1M1358.5 1099.7H1477.1M1190.6 1082.7H1363.7M1193.2 1116.6H1363.7M1166 1071.4H1195.8M1147.2 1094H1195.8M1383.7 483.5H1418.7M1354.4 813.2H1418.7M1318.2 380.4H1388.9M1188 586.5H1388.9M1241.4 311.4H1323.4M1180 449.4H1323.4M1218.5 258.2H1246.6M1113.2 364.6H1246.6M1171.1 208.4H1223.7M1136.9 308.1H1223.7M1161.6 170.9H1176.3M1093 245.9H1176.3M1148.3 129.9H1166.8M1047 211.9H1166.8M1098.1 81.9H1153.5M1095.1 178H1153.5M1076.7 48H1103.3M1087 115.8H1103.3M1052.7 31H1081.9M1069.4 64.9H1081.9M1061.6 53.6H1074.6M1060.8 76.2H1074.6M1054.2 98.9H1092.2M1073 132.8H1092.2M1060.1 121.5H1078.2M1059.4 144.1H1078.2M1058.6 166.7H1100.3M1045.3 189.3H1100.3M1080 234.6H1098.2M1082.5 257.2H1098.2M1121.9 291.1H1142.1M1092.6 325H1142.1M1064 279.8H1127.1M1056 302.4H1127.1M1067.5 347.6H1118.4M1083.3 381.6H1118.4M1061.3 370.3H1088.5M1066.6 392.9H1088.5M1138.7 426.8H1185.2M1150.5 472H1185.2M1133.9 415.5H1143.9M1138.4 438.1H1143.9M1132.5 460.7H1155.7M1127.2 483.3H1155.7M1154.8 548.4H1193.2M1138.5 624.7H1193.2M1084.9 522.9H1160M1079.3 573.8H1160M1067.8 506H1090.1M1076.7 539.9H1090.1M1060.4 528.6H1081.9M1060.4 551.2H1081.9M1085.6 607.7H1143.7M1069.9 641.7H1143.7M1067.1 596.4H1090.8M1072.6 619H1090.8M1248.7 712.3H1359.6M1300.4 914.1H1359.6M1156.8 692.5H1253.9M1164.5 732.1H1253.9M1150.4 675.6H1162M1146 709.5H1162M1143.4 664.3H1155.6M1144.7 686.9H1155.6M1235.5 854.4H1305.6M1214 973.8H1305.6M1227.9 812.7H1240.7M1221.1 896.1H1240.7M1212.4 780.2H1233.1M1197.2 845.2H1233.1M1192.6 754.7H1217.6M1208.2 805.6H1217.6M1198.4 788.7H1213.4M1201.7 822.6H1213.4M1196.4 777.4H1203.6M1195.6 800H1203.6M1218.8 879.1H1226.3M1202.5 913.1H1226.3M1205.5 867.8H1224M1206.3 890.4H1224M1177.4 947H1219.2M1185 1000.7H1219.2M1134.1 935.7H1182.6M1121.9 958.3H1182.6M1110.6 980.9H1190.2M1151.2 1020.5H1190.2M1124.7 1003.5H1156.4M1130.6 1037.5H1156.4M1120 1026.1H1135.8M1119.1 1048.8H1135.8" fill="none" stroke="#2e4030" stroke-opacity="0.85" stroke-width="7.4"/>
<path d="M1519.8 870.3V1142.9M1474.5 644.7V1103.4M1361.1 1079V1120.3M1193.2 1067.7V1097.7M1416.1 479.8V816.9M1386.3 376.7V590.2M1320.8 307.7V453.1M1244 254.5V368.3M1221.1 204.7V311.8M1173.7 167.2V249.6M1164.2 126.2V215.6M1150.9 78.2V181.7M1100.7 44.3V119.5M1079.3 27.3V68.6M1072 49.9V79.9M1089.6 95.2V136.5M1075.6 117.8V147.8M1097.7 163V193M1095.6 230.9V260.9M1139.5 287.4V328.7M1124.5 276.1V306.1M1115.8 343.9V385.3M1085.9 366.6V396.6M1182.6 423.1V475.7M1141.3 411.8V441.8M1153.1 457V487M1190.6 544.7V628.4M1157.4 519.2V577.5M1087.5 502.3V543.6M1079.3 524.9V554.9M1141.1 604V645.4M1088.2 592.7V622.7M1357 708.6V917.8M1251.3 688.8V735.8M1159.4 671.9V713.2M1153 660.6V690.6M1303 850.7V977.5M1238.1 809V899.8M1230.5 776.5V848.9M1215 751V809.3M1210.8 785V826.3M1201 773.7V803.7M1223.7 875.4V916.8M1221.4 864.1V894.1M1216.6 943.3V1004.4M1180 932V962M1187.6 977.2V1024.2M1153.8 999.8V1041.2M1133.2 1022.4V1052.5" fill="none" stroke="#2e4030" stroke-opacity="0.85" stroke-width="5.2"/>
<g fill="none"><path d="M1519.8 871.7V1141.5" stroke="#70e620" stroke-width="3.4"/><path d="M1472.8 874H1521.5" stroke="url(#g1)" stroke-width="4.6"/><path d="M1260.1 1139.2H1521.5" stroke="url(#g2)" stroke-width="4.6"/><path d="M1474.5 646.1V1102" stroke="#46e620" stroke-width="3.4"/><path d="M1414.4 648.4H1476.2" stroke="url(#g3)" stroke-width="4.6"/><path d="M1359.4 1099.7H1476.2" stroke="url(#g4)" stroke-width="4.6"/><path d="M1361.1 1080.4V1118.9" stroke="#a2e620" stroke-width="3.4"/><path d="M1191.5 1082.7H1362.8" stroke="url(#g5)" stroke-width="4.6"/><path d="M1194.4 1116.6H1362.8" stroke="url(#g6)" stroke-width="4.6"/><path d="M1193.2 1069.1V1096.3" stroke="#e67320" stroke-width="3.4"/><path d="M1167.2 1071.4H1194.9" stroke="url(#g7)" stroke-width="4.6"/><path d="M1148.4 1094H1194.9" stroke="url(#g8)" stroke-width="4.6"/><path d="M1416.1 481.2V815.5" stroke="#2ee620" stroke-width="3.4"/><path d="M1384.6 483.5H1417.8" stroke="url(#g9)" stroke-width="4.6"/><path d="M1355.3 813.2H1417.8" stroke="url(#g10)" stroke-width="4.6"/><path d="M1386.3 378.1V588.8" stroke="#20e623" stroke-width="3.4"/><path d="M1319.1 380.4H1388" stroke="url(#g11)" stroke-width="4.6"/><path d="M1188.9 586.5H1388" stroke="url(#g12)" stroke-width="4.6"/><path d="M1320.8 309.1V451.7" stroke="#20e634" stroke-width="3.4"/><path d="M1242.3 311.4H1322.5" stroke="url(#g13)" stroke-width="4.6"/><path d="M1180.9 449.4H1322.5" stroke="url(#g14)" stroke-width="4.6"/><path d="M1244 255.9V366.9" stroke="#20e6a8" stroke-width="3.4"/><path d="M1219.4 258.2H1245.7" stroke="url(#g15)" stroke-width="4.6"/><path d="M1114.1 364.6H1245.7" stroke="url(#g16)" stroke-width="4.6"/><path d="M1221.1 206.1V310.4" stroke="#20e6c1" stroke-width="3.4"/><path d="M1172 208.4H1222.8" stroke="url(#g17)" stroke-width="4.6"/><path d="M1137.8 308.1H1222.8" stroke="url(#g18)" stroke-width="4.6"/><path d="M1173.7 168.6V248.2" stroke="#20e6c9" stroke-width="3.4"/><path d="M1162.5 170.9H1175.4" stroke="url(#g19)" stroke-width="4.6"/><path d="M1093.9 245.9H1175.4" stroke="url(#g20)" stroke-width="4.6"/><path d="M1164.2 127.6V214.2" stroke="#20e6d1" stroke-width="3.4"/><path d="M1149.2 129.9H1165.9" stroke="url(#g21)" stroke-width="4.6"/><path d="M1048.2 211.9H1165.9" stroke="url(#g22)" stroke-width="4.6"/><path d="M1150.9 79.6V180.3" stroke="#20e6e2" stroke-width="3.4"/><path d="M1099 81.9H1152.6" stroke="url(#g23)" stroke-width="4.6"/><path d="M1096 178H1152.6" stroke="url(#g24)" stroke-width="4.6"/><path d="M1100.7 45.7V118.1" stroke="#2064e6" stroke-width="3.4"/><path d="M1077.6 48H1102.4" stroke="url(#g25)" stroke-width="4.6"/><path d="M1087.9 115.8H1102.4" stroke="url(#g26)" stroke-width="4.6"/><path d="M1079.3 28.7V67.2" stroke="#2064e6" stroke-width="3.4"/><path d="M1053.9 31H1081" stroke="url(#g27)" stroke-width="4.6"/><path d="M1070.3 64.9H1081" stroke="url(#g28)" stroke-width="4.6"/><path d="M1072 51.3V78.5" stroke="#2043e6" stroke-width="3.4"/><path d="M1062.8 53.6H1073.7" stroke="url(#g29)" stroke-width="4.6"/><path d="M1062 76.2H1073.7" stroke="url(#g30)" stroke-width="4.6"/><path d="M1089.6 96.6V135.1" stroke="#2054e6" stroke-width="3.4"/><path d="M1055.4 98.9H1091.3" stroke="url(#g31)" stroke-width="4.6"/><path d="M1073.9 132.8H1091.3" stroke="url(#g32)" stroke-width="4.6"/><path d="M1075.6 119.2V146.4" stroke="#205ce6" stroke-width="3.4"/><path d="M1061.3 121.5H1077.3" stroke="url(#g33)" stroke-width="4.6"/><path d="M1060.6 144.1H1077.3" stroke="url(#g34)" stroke-width="4.6"/><path d="M1097.7 164.4V191.6" stroke="#20e6e2" stroke-width="3.4"/><path d="M1059.8 166.7H1099.4" stroke="url(#g35)" stroke-width="4.6"/><path d="M1046.5 189.3H1099.4" stroke="url(#g36)" stroke-width="4.6"/><path d="M1095.6 232.3V259.5" stroke="#20e68f" stroke-width="3.4"/><path d="M1081.2 234.6H1097.3" stroke="url(#g37)" stroke-width="4.6"/><path d="M1083.7 257.2H1097.3" stroke="url(#g38)" stroke-width="4.6"/><path d="M1139.5 288.8V327.3" stroke="#20e6c9" stroke-width="3.4"/><path d="M1122.8 291.1H1141.2" stroke="url(#g39)" stroke-width="4.6"/><path d="M1093.8 325H1141.2" stroke="url(#g40)" stroke-width="4.6"/><path d="M1124.5 277.5V304.7" stroke="#20e6b8" stroke-width="3.4"/><path d="M1065.2 279.8H1126.2" stroke="url(#g41)" stroke-width="4.6"/><path d="M1057.2 302.4H1126.2" stroke="url(#g42)" stroke-width="4.6"/><path d="M1115.8 345.3V383.9" stroke="#20afe6" stroke-width="3.4"/><path d="M1068.7 347.6H1117.5" stroke="url(#g43)" stroke-width="4.6"/><path d="M1084.2 381.6H1117.5" stroke="url(#g44)" stroke-width="4.6"/><path d="M1085.9 368V395.2" stroke="#209ee6" stroke-width="3.4"/><path d="M1062.5 370.3H1087.6" stroke="url(#g45)" stroke-width="4.6"/><path d="M1067.8 392.9H1087.6" stroke="url(#g46)" stroke-width="4.6"/><path d="M1182.6 424.5V474.3" stroke="#91e620" stroke-width="3.4"/><path d="M1139.6 426.8H1184.3" stroke="url(#g47)" stroke-width="4.6"/><path d="M1151.4 472H1184.3" stroke="url(#g48)" stroke-width="4.6"/><path d="M1141.3 413.2V440.4" stroke="#c3e620" stroke-width="3.4"/><path d="M1135.1 415.5H1143" stroke="url(#g49)" stroke-width="4.6"/><path d="M1139.6 438.1H1143" stroke="url(#g50)" stroke-width="4.6"/><path d="M1153.1 458.4V485.6" stroke="#a2e620" stroke-width="3.4"/><path d="M1133.7 460.7H1154.8" stroke="url(#g51)" stroke-width="4.6"/><path d="M1128.4 483.3H1154.8" stroke="url(#g52)" stroke-width="4.6"/><path d="M1190.6 546.1V627" stroke="#20e644" stroke-width="3.4"/><path d="M1155.7 548.4H1192.3" stroke="url(#g53)" stroke-width="4.6"/><path d="M1139.4 624.7H1192.3" stroke="url(#g54)" stroke-width="4.6"/><path d="M1157.4 520.6V576.1" stroke="#20e676" stroke-width="3.4"/><path d="M1085.8 522.9H1159.1" stroke="url(#g55)" stroke-width="4.6"/><path d="M1080.5 573.8H1159.1" stroke="url(#g56)" stroke-width="4.6"/><path d="M1087.5 503.7V542.2" stroke="#20e6b8" stroke-width="3.4"/><path d="M1069 506H1089.2" stroke="url(#g57)" stroke-width="4.6"/><path d="M1077.6 539.9H1089.2" stroke="url(#g58)" stroke-width="4.6"/><path d="M1079.3 526.3V553.5" stroke="#20e6c9" stroke-width="3.4"/><path d="M1061.6 528.6H1081" stroke="url(#g59)" stroke-width="4.6"/><path d="M1061.6 551.2H1081" stroke="url(#g60)" stroke-width="4.6"/><path d="M1141.1 605.4V644" stroke="#20e623" stroke-width="3.4"/><path d="M1086.5 607.7H1142.8" stroke="url(#g61)" stroke-width="4.6"/><path d="M1071.1 641.7H1142.8" stroke="url(#g62)" stroke-width="4.6"/><path d="M1088.2 594.1V621.3" stroke="#25e620" stroke-width="3.4"/><path d="M1068.3 596.4H1089.9" stroke="url(#g63)" stroke-width="4.6"/><path d="M1073.8 619H1089.9" stroke="url(#g64)" stroke-width="4.6"/><path d="M1357 710V916.4" stroke="#36e620" stroke-width="3.4"/><path d="M1249.6 712.3H1358.7" stroke="url(#g65)" stroke-width="4.6"/><path d="M1301.3 914.1H1358.7" stroke="url(#g66)" stroke-width="4.6"/><path d="M1251.3 690.2V734.4" stroke="#20e65d" stroke-width="3.4"/><path d="M1157.7 692.5H1253" stroke="url(#g67)" stroke-width="4.6"/><path d="M1165.7 732.1H1253" stroke="url(#g68)" stroke-width="4.6"/><path d="M1159.4 673.3V711.8" stroke="#20e6a8" stroke-width="3.4"/><path d="M1151.3 675.6H1161.1" stroke="url(#g69)" stroke-width="4.6"/><path d="M1147.2 709.5H1161.1" stroke="url(#g70)" stroke-width="4.6"/><path d="M1153 662V689.2" stroke="#20e6c1" stroke-width="3.4"/><path d="M1144.6 664.3H1154.7" stroke="url(#g71)" stroke-width="4.6"/><path d="M1145.9 686.9H1154.7" stroke="url(#g72)" stroke-width="4.6"/><path d="M1303 852.1V976.1" stroke="#70e620" stroke-width="3.4"/><path d="M1236.4 854.4H1304.7" stroke="url(#g73)" stroke-width="4.6"/><path d="M1214.9 973.8H1304.7" stroke="url(#g74)" stroke-width="4.6"/><path d="M1238.1 810.4V898.4" stroke="#4fe620" stroke-width="3.4"/><path d="M1228.8 812.7H1239.8" stroke="url(#g75)" stroke-width="4.6"/><path d="M1222 896.1H1239.8" stroke="url(#g76)" stroke-width="4.6"/><path d="M1230.5 777.9V847.5" stroke="#4fe620" stroke-width="3.4"/><path d="M1213.3 780.2H1232.2" stroke="url(#g77)" stroke-width="4.6"/><path d="M1198.4 845.2H1232.2" stroke="url(#g78)" stroke-width="4.6"/><path d="M1215 752.4V807.9" stroke="#5fe620" stroke-width="3.4"/><path d="M1193.8 754.7H1216.7" stroke="url(#g79)" stroke-width="4.6"/><path d="M1209.1 805.6H1216.7" stroke="url(#g80)" stroke-width="4.6"/><path d="M1210.8 786.4V824.9" stroke="#a2e620" stroke-width="3.4"/><path d="M1199.3 788.7H1212.5" stroke="url(#g81)" stroke-width="4.6"/><path d="M1202.9 822.6H1212.5" stroke="url(#g82)" stroke-width="4.6"/><path d="M1201 775.1V802.3" stroke="#c3e620" stroke-width="3.4"/><path d="M1197.6 777.4H1202.7" stroke="url(#g83)" stroke-width="4.6"/><path d="M1196.8 800H1202.7" stroke="url(#g84)" stroke-width="4.6"/><path d="M1223.7 876.8V915.4" stroke="#46e620" stroke-width="3.4"/><path d="M1219.7 879.1H1225.4" stroke="url(#g85)" stroke-width="4.6"/><path d="M1203.7 913.1H1225.4" stroke="url(#g86)" stroke-width="4.6"/><path d="M1221.4 865.5V892.7" stroke="#46e620" stroke-width="3.4"/><path d="M1206.7 867.8H1223.1" stroke="url(#g87)" stroke-width="4.6"/><path d="M1207.5 890.4H1223.1" stroke="url(#g88)" stroke-width="4.6"/><path d="M1216.6 944.7V1003" stroke="#c3e620" stroke-width="3.4"/><path d="M1178.3 947H1218.3" stroke="url(#g89)" stroke-width="4.6"/><path d="M1185.9 1000.7H1218.3" stroke="url(#g90)" stroke-width="4.6"/><path d="M1180 933.4V960.6" stroke="#70e620" stroke-width="3.4"/><path d="M1135.3 935.7H1181.7" stroke="url(#g91)" stroke-width="4.6"/><path d="M1123.1 958.3H1181.7" stroke="url(#g92)" stroke-width="4.6"/><path d="M1187.6 978.6V1022.8" stroke="#e6c620" stroke-width="3.4"/><path d="M1111.8 980.9H1189.3" stroke="url(#g93)" stroke-width="4.6"/><path d="M1152.1 1020.5H1189.3" stroke="url(#g94)" stroke-width="4.6"/><path d="M1153.8 1001.2V1039.8" stroke="#e68420" stroke-width="3.4"/><path d="M1125.9 1003.5H1155.5" stroke="url(#g95)" stroke-width="4.6"/><path d="M1131.5 1037.5H1155.5" stroke="url(#g96)" stroke-width="4.6"/><path d="M1133.2 1023.8V1051.1" stroke="#e67320" stroke-width="3.4"/><path d="M1121.2 1026.1H1134.9" stroke="url(#g97)" stroke-width="4.6"/><path d="M1120.3 1048.8H1134.9" stroke="url(#g98)" stroke-width="4.6"/></g>
<text x="1269" y="1188.5" font-family="Liberation Sans" font-weight="bold" font-size="16.2" fill="#000">Log(Desiccation resistance (h))</text>
<defs><linearGradient id="cbar" x1="0" y1="0" x2="1" y2="0"><stop offset="0.00" stop-color="#4820e6"/><stop offset="0.05" stop-color="#2022e6"/><stop offset="0.10" stop-color="#204ce6"/><stop offset="0.15" stop-color="#2075e6"/><stop offset="0.20" stop-color="#209ee6"/><stop offset="0.25" stop-color="#20c8e6"/><stop offset="0.30" stop-color="#20e6da"/><stop offset="0.35" stop-color="#20e6b0"/><stop offset="0.40" stop-color="#20e687"/><stop offset="0.45" stop-color="#20e65d"/><stop offset="0.50" stop-color="#20e634"/><stop offset="0.55" stop-color="#36e620"/><stop offset="0.60" stop-color="#5fe620"/><stop offset="0.65" stop-color="#89e620"/><stop offset="0.70" stop-color="#b2e620"/><stop offset="0.75" stop-color="#dce620"/><stop offset="0.80" stop-color="#e6c620"/><stop offset="0.85" stop-color="#e69c20"/><stop offset="0.90" stop-color="#e67320"/><stop offset="0.95" stop-color="#e64a20"/><stop offset="1.00" stop-color="#e62020"/></linearGradient></defs>
<rect x="1269.5" y="1200.3" width="240" height="8" rx="2" fill="url(#cbar)"/>
<text x="1269" y="1228.7" font-family="Liberation Sans" font-weight="bold" font-size="17" fill="#000">1.011</text>
<text x="1511" y="1228.7" text-anchor="end" font-family="Liberation Sans" font-weight="bold" font-size="17" fill="#000">4.065</text>
</svg>
</body></html>
